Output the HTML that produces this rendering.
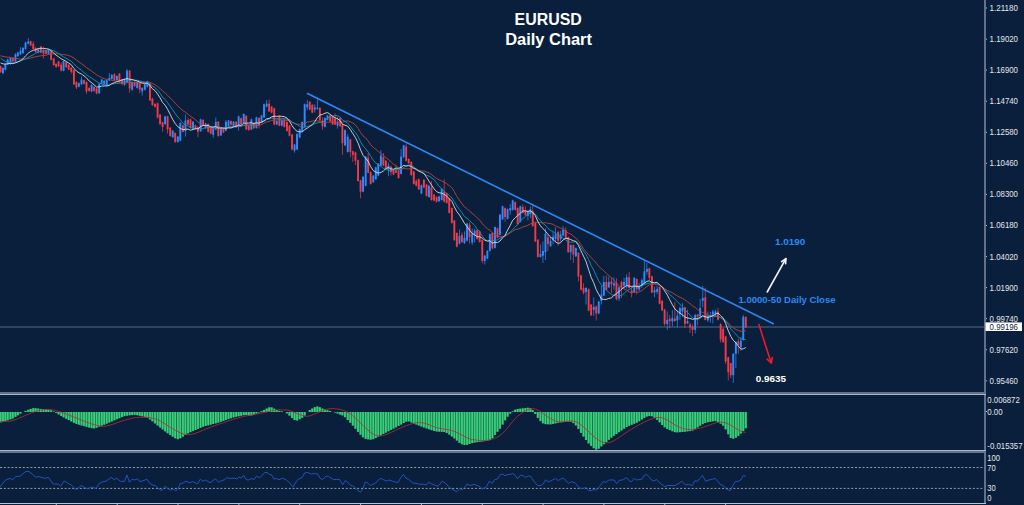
<!DOCTYPE html>
<html><head><meta charset="utf-8"><title>EURUSD Daily Chart</title>
<style>html,body{margin:0;padding:0;background:#0a1f3b;}body{width:1024px;height:505px;overflow:hidden;}svg{display:block;}</style>
</head><body>
<svg width="1024" height="505" viewBox="0 0 1024 505" shape-rendering="auto">
<rect x="0" y="0" width="1024" height="505" fill="#0a1f3b"/>
<rect x="0" y="326.5" width="984" height="1" fill="#5a6983"/>
<g><rect x="0.14" y="65.54" width="0.9" height="7.34" fill="#f23a48" opacity="0.8"/><rect x="2.52" y="67.32" width="0.9" height="6.75" fill="#2e8bff" opacity="0.8"/><rect x="4.90" y="63.16" width="0.9" height="7.34" fill="#2e8bff" opacity="0.8"/><rect x="7.27" y="58.51" width="0.9" height="6.64" fill="#2e8bff" opacity="0.8"/><rect x="10.01" y="57.22" width="0.9" height="7.83" fill="#2e8bff" opacity="0.8"/><rect x="12.38" y="57.22" width="0.9" height="4.96" fill="#f23a48" opacity="0.8"/><rect x="15.00" y="53.17" width="0.9" height="9.02" fill="#2e8bff" opacity="0.8"/><rect x="17.37" y="51.87" width="0.9" height="4.96" fill="#2e8bff" opacity="0.8"/><rect x="19.99" y="47.23" width="0.9" height="7.83" fill="#2e8bff" opacity="0.8"/><rect x="22.48" y="47.12" width="0.9" height="6.75" fill="#2e8bff" opacity="0.8"/><rect x="25.09" y="41.78" width="0.9" height="7.93" fill="#2e8bff" opacity="0.8"/><rect x="27.83" y="38.08" width="0.9" height="6.28" fill="#2e8bff" opacity="0.8"/><rect x="30.20" y="40.59" width="0.9" height="5.56" fill="#f23a48" opacity="0.8"/><rect x="32.82" y="41.29" width="0.9" height="8.42" fill="#f23a48" opacity="0.8"/><rect x="35.19" y="47.12" width="0.9" height="5.56" fill="#f23a48" opacity="0.8"/><rect x="37.81" y="48.31" width="0.9" height="4.96" fill="#2e8bff" opacity="0.8"/><rect x="40.42" y="45.93" width="0.9" height="7.34" fill="#f23a48" opacity="0.8"/><rect x="43.04" y="46.63" width="0.9" height="11.88" fill="#f23a48" opacity="0.8"/><rect x="45.65" y="50.09" width="0.9" height="4.37" fill="#f23a48" opacity="0.8"/><rect x="48.03" y="49.50" width="0.9" height="4.96" fill="#2e8bff" opacity="0.8"/><rect x="50.64" y="50.69" width="0.9" height="9.72" fill="#f23a48" opacity="0.8"/><rect x="53.25" y="57.81" width="0.9" height="7.93" fill="#f23a48" opacity="0.8"/><rect x="55.63" y="63.16" width="0.9" height="4.86" fill="#f23a48" opacity="0.8"/><rect x="58.12" y="60.79" width="0.9" height="6.15" fill="#f23a48" opacity="0.8"/><rect x="60.74" y="62.38" width="0.9" height="9.02" fill="#f23a48" opacity="0.8"/><rect x="63.11" y="60.49" width="0.9" height="10.90" fill="#2e8bff" opacity="0.8"/><rect x="65.73" y="61.68" width="0.9" height="6.15" fill="#f23a48" opacity="0.8"/><rect x="68.22" y="64.05" width="0.9" height="6.15" fill="#f23a48" opacity="0.8"/><rect x="70.84" y="67.02" width="0.9" height="6.64" fill="#f23a48" opacity="0.8"/><rect x="73.45" y="69.40" width="0.9" height="15.66" fill="#f23a48" opacity="0.8"/><rect x="75.95" y="81.28" width="0.9" height="7.83" fill="#f23a48" opacity="0.8"/><rect x="78.44" y="82.47" width="0.9" height="4.96" fill="#2e8bff" opacity="0.8"/><rect x="81.05" y="76.63" width="0.9" height="8.42" fill="#2e8bff" opacity="0.8"/><rect x="83.55" y="79.50" width="0.9" height="4.96" fill="#f23a48" opacity="0.8"/><rect x="86.05" y="81.28" width="0.9" height="12.58" fill="#f23a48" opacity="0.8"/><rect x="88.66" y="87.22" width="0.9" height="4.37" fill="#f23a48" opacity="0.8"/><rect x="91.15" y="84.25" width="0.9" height="7.93" fill="#2e8bff" opacity="0.8"/><rect x="93.65" y="86.03" width="0.9" height="5.56" fill="#f23a48" opacity="0.8"/><rect x="96.14" y="87.81" width="0.9" height="6.64" fill="#f23a48" opacity="0.8"/><rect x="98.76" y="83.06" width="0.9" height="10.90" fill="#2e8bff" opacity="0.8"/><rect x="101.25" y="78.90" width="0.9" height="5.56" fill="#2e8bff" opacity="0.8"/><rect x="103.75" y="80.09" width="0.9" height="4.37" fill="#2e8bff" opacity="0.8"/><rect x="106.24" y="79.50" width="0.9" height="6.15" fill="#2e8bff" opacity="0.8"/><rect x="108.86" y="73.07" width="0.9" height="7.83" fill="#2e8bff" opacity="0.8"/><rect x="111.35" y="74.15" width="0.9" height="5.56" fill="#2e8bff" opacity="0.8"/><rect x="113.97" y="73.07" width="0.9" height="7.83" fill="#f23a48" opacity="0.8"/><rect x="116.46" y="75.34" width="0.9" height="5.56" fill="#2e8bff" opacity="0.8"/><rect x="118.96" y="72.96" width="0.9" height="9.72" fill="#f23a48" opacity="0.8"/><rect x="121.57" y="78.90" width="0.9" height="6.64" fill="#f23a48" opacity="0.8"/><rect x="124.06" y="78.31" width="0.9" height="7.34" fill="#2e8bff" opacity="0.8"/><rect x="126.56" y="68.91" width="0.9" height="14.36" fill="#2e8bff" opacity="0.8"/><rect x="129.17" y="69.99" width="0.9" height="22.68" fill="#f23a48" opacity="0.8"/><rect x="131.67" y="81.28" width="0.9" height="9.61" fill="#2e8bff" opacity="0.8"/><rect x="134.16" y="81.28" width="0.9" height="5.56" fill="#f23a48" opacity="0.8"/><rect x="136.78" y="81.28" width="0.9" height="7.34" fill="#2e8bff" opacity="0.8"/><rect x="139.27" y="81.87" width="0.9" height="11.39" fill="#f23a48" opacity="0.8"/><rect x="141.77" y="87.22" width="0.9" height="8.42" fill="#2e8bff" opacity="0.8"/><rect x="144.38" y="83.66" width="0.9" height="6.75" fill="#2e8bff" opacity="0.8"/><rect x="146.88" y="80.69" width="0.9" height="6.75" fill="#2e8bff" opacity="0.8"/><rect x="149.49" y="83.06" width="0.9" height="18.03" fill="#f23a48" opacity="0.8"/><rect x="151.93" y="97.86" width="0.9" height="7.93" fill="#f23a48" opacity="0.8"/><rect x="154.54" y="103.21" width="0.9" height="4.37" fill="#f23a48" opacity="0.8"/><rect x="157.15" y="102.62" width="0.9" height="15.66" fill="#f23a48" opacity="0.8"/><rect x="159.65" y="113.90" width="0.9" height="10.90" fill="#f23a48" opacity="0.8"/><rect x="162.14" y="121.63" width="0.9" height="10.20" fill="#f23a48" opacity="0.8"/><rect x="164.64" y="115.69" width="0.9" height="9.12" fill="#2e8bff" opacity="0.8"/><rect x="167.13" y="115.69" width="0.9" height="17.93" fill="#f23a48" opacity="0.8"/><rect x="169.75" y="126.97" width="0.9" height="9.72" fill="#f23a48" opacity="0.8"/><rect x="172.24" y="129.94" width="0.9" height="7.93" fill="#2e8bff" opacity="0.8"/><rect x="174.74" y="132.32" width="0.9" height="10.80" fill="#f23a48" opacity="0.8"/><rect x="177.35" y="135.88" width="0.9" height="6.75" fill="#2e8bff" opacity="0.8"/><rect x="179.85" y="122.22" width="0.9" height="19.22" fill="#2e8bff" opacity="0.8"/><rect x="182.46" y="124.60" width="0.9" height="7.93" fill="#f23a48" opacity="0.8"/><rect x="184.96" y="114.60" width="0.9" height="21.98" fill="#2e8bff" opacity="0.8"/><rect x="187.57" y="117.57" width="0.9" height="7.83" fill="#f23a48" opacity="0.8"/><rect x="190.06" y="118.66" width="0.9" height="9.72" fill="#f23a48" opacity="0.8"/><rect x="192.56" y="121.03" width="0.9" height="8.53" fill="#2e8bff" opacity="0.8"/><rect x="195.05" y="124.60" width="0.9" height="4.96" fill="#f23a48" opacity="0.8"/><rect x="197.55" y="126.38" width="0.9" height="10.80" fill="#f23a48" opacity="0.8"/><rect x="200.16" y="118.66" width="0.9" height="13.28" fill="#2e8bff" opacity="0.8"/><rect x="202.66" y="119.25" width="0.9" height="6.75" fill="#f23a48" opacity="0.8"/><rect x="205.15" y="122.81" width="0.9" height="6.15" fill="#2e8bff" opacity="0.8"/><rect x="207.77" y="123.41" width="0.9" height="9.12" fill="#f23a48" opacity="0.8"/><rect x="210.26" y="126.38" width="0.9" height="7.93" fill="#f23a48" opacity="0.8"/><rect x="212.76" y="127.57" width="0.9" height="10.20" fill="#2e8bff" opacity="0.8"/><rect x="215.37" y="117.57" width="0.9" height="12.58" fill="#2e8bff" opacity="0.8"/><rect x="217.87" y="121.03" width="0.9" height="15.66" fill="#f23a48" opacity="0.8"/><rect x="220.48" y="128.16" width="0.9" height="7.93" fill="#2e8bff" opacity="0.8"/><rect x="222.98" y="127.57" width="0.9" height="5.56" fill="#f23a48" opacity="0.8"/><rect x="225.47" y="119.95" width="0.9" height="11.39" fill="#2e8bff" opacity="0.8"/><rect x="228.08" y="119.84" width="0.9" height="7.34" fill="#2e8bff" opacity="0.8"/><rect x="230.58" y="120.44" width="0.9" height="4.96" fill="#f23a48" opacity="0.8"/><rect x="233.07" y="121.03" width="0.9" height="6.15" fill="#2e8bff" opacity="0.8"/><rect x="235.69" y="121.03" width="0.9" height="6.75" fill="#f23a48" opacity="0.8"/><rect x="238.18" y="115.69" width="0.9" height="14.96" fill="#2e8bff" opacity="0.8"/><rect x="240.68" y="117.47" width="0.9" height="7.34" fill="#f23a48" opacity="0.8"/><rect x="243.29" y="113.31" width="0.9" height="10.31" fill="#2e8bff" opacity="0.8"/><rect x="245.79" y="115.09" width="0.9" height="15.06" fill="#f23a48" opacity="0.8"/><rect x="248.28" y="124.60" width="0.9" height="6.15" fill="#f23a48" opacity="0.8"/><rect x="250.90" y="118.66" width="0.9" height="11.50" fill="#2e8bff" opacity="0.8"/><rect x="253.39" y="122.22" width="0.9" height="6.75" fill="#f23a48" opacity="0.8"/><rect x="255.98" y="116.63" width="0.9" height="12.09" fill="#2e8bff" opacity="0.8"/><rect x="258.59" y="117.22" width="0.9" height="11.39" fill="#f23a48" opacity="0.8"/><rect x="261.08" y="114.84" width="0.9" height="8.53" fill="#2e8bff" opacity="0.8"/><rect x="263.58" y="103.56" width="0.9" height="14.47" fill="#2e8bff" opacity="0.8"/><rect x="266.19" y="100.10" width="0.9" height="7.23" fill="#2e8bff" opacity="0.8"/><rect x="268.69" y="99.50" width="0.9" height="12.58" fill="#f23a48" opacity="0.8"/><rect x="271.18" y="105.93" width="0.9" height="7.34" fill="#f23a48" opacity="0.8"/><rect x="273.80" y="107.72" width="0.9" height="17.44" fill="#f23a48" opacity="0.8"/><rect x="276.29" y="120.19" width="0.9" height="4.96" fill="#2e8bff" opacity="0.8"/><rect x="278.91" y="115.44" width="0.9" height="10.90" fill="#f23a48" opacity="0.8"/><rect x="281.40" y="119.60" width="0.9" height="6.75" fill="#2e8bff" opacity="0.8"/><rect x="283.90" y="119.00" width="0.9" height="8.53" fill="#f23a48" opacity="0.8"/><rect x="286.51" y="121.38" width="0.9" height="10.31" fill="#f23a48" opacity="0.8"/><rect x="289.01" y="124.94" width="0.9" height="11.50" fill="#f23a48" opacity="0.8"/><rect x="291.62" y="133.85" width="0.9" height="16.74" fill="#f23a48" opacity="0.8"/><rect x="294.11" y="143.95" width="0.9" height="8.78" fill="#2e8bff" opacity="0.8"/><rect x="296.61" y="133.26" width="0.9" height="16.85" fill="#2e8bff" opacity="0.8"/><rect x="299.22" y="128.51" width="0.9" height="9.72" fill="#2e8bff" opacity="0.8"/><rect x="301.72" y="121.38" width="0.9" height="10.31" fill="#2e8bff" opacity="0.8"/><rect x="304.21" y="103.56" width="0.9" height="23.97" fill="#2e8bff" opacity="0.8"/><rect x="306.83" y="100.10" width="0.9" height="10.10" fill="#2e8bff" opacity="0.8"/><rect x="309.32" y="101.18" width="0.9" height="9.12" fill="#f23a48" opacity="0.8"/><rect x="311.82" y="104.15" width="0.9" height="9.12" fill="#f23a48" opacity="0.8"/><rect x="314.31" y="104.26" width="0.9" height="8.32" fill="#2e8bff" opacity="0.8"/><rect x="316.93" y="98.91" width="0.9" height="10.81" fill="#2e8bff" opacity="0.8"/><rect x="319.42" y="107.12" width="0.9" height="13.88" fill="#f23a48" opacity="0.8"/><rect x="322.04" y="117.33" width="0.9" height="12.48" fill="#f23a48" opacity="0.8"/><rect x="324.53" y="117.22" width="0.9" height="10.31" fill="#2e8bff" opacity="0.8"/><rect x="327.03" y="114.84" width="0.9" height="5.56" fill="#2e8bff" opacity="0.8"/><rect x="329.64" y="114.84" width="0.9" height="7.34" fill="#f23a48" opacity="0.8"/><rect x="332.13" y="116.03" width="0.9" height="9.12" fill="#f23a48" opacity="0.8"/><rect x="334.63" y="113.17" width="0.9" height="11.99" fill="#f23a48" opacity="0.8"/><rect x="337.12" y="116.73" width="0.9" height="11.88" fill="#2e8bff" opacity="0.8"/><rect x="339.74" y="117.22" width="0.9" height="9.72" fill="#f23a48" opacity="0.8"/><rect x="341.93" y="124.09" width="0.9" height="30.76" fill="#f23a48" opacity="0.8"/><rect x="344.54" y="129.44" width="0.9" height="16.61" fill="#2e8bff" opacity="0.8"/><rect x="347.27" y="134.30" width="0.9" height="18.28" fill="#2e8bff" opacity="0.8"/><rect x="349.89" y="138.71" width="0.9" height="18.52" fill="#f23a48" opacity="0.8"/><rect x="352.38" y="150.59" width="0.9" height="11.39" fill="#f23a48" opacity="0.8"/><rect x="355.00" y="151.78" width="0.9" height="13.18" fill="#f23a48" opacity="0.8"/><rect x="357.61" y="159.50" width="0.9" height="22.19" fill="#f23a48" opacity="0.8"/><rect x="360.10" y="179.70" width="0.9" height="18.52" fill="#f23a48" opacity="0.8"/><rect x="362.60" y="176.13" width="0.9" height="16.25" fill="#2e8bff" opacity="0.8"/><rect x="365.21" y="155.93" width="0.9" height="30.51" fill="#2e8bff" opacity="0.8"/><rect x="367.71" y="153.07" width="0.9" height="20.30" fill="#f23a48" opacity="0.8"/><rect x="370.20" y="171.38" width="0.9" height="13.28" fill="#f23a48" opacity="0.8"/><rect x="372.82" y="174.94" width="0.9" height="7.93" fill="#2e8bff" opacity="0.8"/><rect x="375.31" y="166.63" width="0.9" height="13.28" fill="#2e8bff" opacity="0.8"/><rect x="377.81" y="163.06" width="0.9" height="13.28" fill="#2e8bff" opacity="0.8"/><rect x="380.42" y="150.10" width="0.9" height="16.15" fill="#2e8bff" opacity="0.8"/><rect x="382.92" y="153.07" width="0.9" height="13.18" fill="#f23a48" opacity="0.8"/><rect x="385.41" y="160.09" width="0.9" height="9.12" fill="#f23a48" opacity="0.8"/><rect x="388.03" y="162.57" width="0.9" height="13.66" fill="#2e8bff" opacity="0.8"/><rect x="390.52" y="165.54" width="0.9" height="10.10" fill="#f23a48" opacity="0.8"/><rect x="393.02" y="169.00" width="0.9" height="6.15" fill="#f23a48" opacity="0.8"/><rect x="395.51" y="164.95" width="0.9" height="8.32" fill="#f23a48" opacity="0.8"/><rect x="398.12" y="169.60" width="0.9" height="9.12" fill="#f23a48" opacity="0.8"/><rect x="400.62" y="148.91" width="0.9" height="25.54" fill="#2e8bff" opacity="0.8"/><rect x="403.23" y="144.65" width="0.9" height="13.28" fill="#2e8bff" opacity="0.8"/><rect x="405.73" y="143.56" width="0.9" height="17.93" fill="#f23a48" opacity="0.8"/><rect x="408.22" y="158.31" width="0.9" height="5.56" fill="#f23a48" opacity="0.8"/><rect x="410.84" y="161.28" width="0.9" height="14.47" fill="#f23a48" opacity="0.8"/><rect x="413.33" y="170.79" width="0.9" height="13.88" fill="#f23a48" opacity="0.8"/><rect x="415.83" y="179.21" width="0.9" height="7.23" fill="#f23a48" opacity="0.8"/><rect x="418.32" y="178.51" width="0.9" height="11.50" fill="#f23a48" opacity="0.8"/><rect x="420.94" y="184.45" width="0.9" height="9.72" fill="#2e8bff" opacity="0.8"/><rect x="423.43" y="179.10" width="0.9" height="9.12" fill="#f23a48" opacity="0.8"/><rect x="426.05" y="183.85" width="0.9" height="12.69" fill="#f23a48" opacity="0.8"/><rect x="428.54" y="185.04" width="0.9" height="12.69" fill="#2e8bff" opacity="0.8"/><rect x="431.04" y="180.99" width="0.9" height="19.71" fill="#f23a48" opacity="0.8"/><rect x="433.65" y="193.95" width="0.9" height="7.34" fill="#f23a48" opacity="0.8"/><rect x="436.14" y="196.33" width="0.9" height="6.15" fill="#f23a48" opacity="0.8"/><rect x="438.64" y="195.74" width="0.9" height="6.15" fill="#2e8bff" opacity="0.8"/><rect x="441.25" y="188.01" width="0.9" height="12.69" fill="#2e8bff" opacity="0.8"/><rect x="443.75" y="179.21" width="0.9" height="23.27" fill="#f23a48" opacity="0.8"/><rect x="446.24" y="192.77" width="0.9" height="10.90" fill="#f23a48" opacity="0.8"/><rect x="448.79" y="197.86" width="0.9" height="15.66" fill="#f23a48" opacity="0.8"/><rect x="451.40" y="207.37" width="0.9" height="16.25" fill="#f23a48" opacity="0.8"/><rect x="453.90" y="219.84" width="0.9" height="21.00" fill="#f23a48" opacity="0.8"/><rect x="456.39" y="232.32" width="0.9" height="15.06" fill="#f23a48" opacity="0.8"/><rect x="459.01" y="229.46" width="0.9" height="14.96" fill="#2e8bff" opacity="0.8"/><rect x="461.50" y="232.43" width="0.9" height="10.69" fill="#f23a48" opacity="0.8"/><rect x="464.00" y="231.24" width="0.9" height="12.58" fill="#2e8bff" opacity="0.8"/><rect x="466.61" y="222.81" width="0.9" height="18.63" fill="#2e8bff" opacity="0.8"/><rect x="469.10" y="222.33" width="0.9" height="21.39" fill="#f23a48" opacity="0.8"/><rect x="471.72" y="228.27" width="0.9" height="16.63" fill="#2e8bff" opacity="0.8"/><rect x="474.21" y="228.86" width="0.9" height="13.66" fill="#2e8bff" opacity="0.8"/><rect x="476.71" y="229.35" width="0.9" height="10.31" fill="#f23a48" opacity="0.8"/><rect x="479.20" y="230.54" width="0.9" height="12.09" fill="#f23a48" opacity="0.8"/><rect x="481.82" y="239.45" width="0.9" height="23.87" fill="#f23a48" opacity="0.8"/><rect x="484.31" y="254.89" width="0.9" height="9.61" fill="#2e8bff" opacity="0.8"/><rect x="486.93" y="250.14" width="0.9" height="9.12" fill="#2e8bff" opacity="0.8"/><rect x="489.42" y="233.51" width="0.9" height="18.03" fill="#2e8bff" opacity="0.8"/><rect x="491.92" y="232.32" width="0.9" height="16.85" fill="#f23a48" opacity="0.8"/><rect x="494.53" y="226.38" width="0.9" height="22.19" fill="#2e8bff" opacity="0.8"/><rect x="497.03" y="227.57" width="0.9" height="10.90" fill="#f23a48" opacity="0.8"/><rect x="499.52" y="213.90" width="0.9" height="21.60" fill="#2e8bff" opacity="0.8"/><rect x="502.13" y="205.59" width="0.9" height="14.47" fill="#2e8bff" opacity="0.8"/><rect x="504.63" y="207.37" width="0.9" height="14.36" fill="#f23a48" opacity="0.8"/><rect x="507.12" y="208.56" width="0.9" height="10.90" fill="#2e8bff" opacity="0.8"/><rect x="509.74" y="203.91" width="0.9" height="10.69" fill="#2e8bff" opacity="0.8"/><rect x="512.23" y="199.65" width="0.9" height="10.90" fill="#2e8bff" opacity="0.8"/><rect x="514.73" y="201.43" width="0.9" height="9.12" fill="#f23a48" opacity="0.8"/><rect x="517.22" y="207.37" width="0.9" height="17.44" fill="#f23a48" opacity="0.8"/><rect x="519.84" y="205.59" width="0.9" height="16.85" fill="#2e8bff" opacity="0.8"/><rect x="522.33" y="204.50" width="0.9" height="9.02" fill="#f23a48" opacity="0.8"/><rect x="524.95" y="206.29" width="0.9" height="9.50" fill="#f23a48" opacity="0.8"/><rect x="527.44" y="210.45" width="0.9" height="10.10" fill="#2e8bff" opacity="0.8"/><rect x="529.94" y="206.29" width="0.9" height="11.88" fill="#2e8bff" opacity="0.8"/><rect x="532.27" y="204.06" width="0.9" height="22.68" fill="#f23a48" opacity="0.8"/><rect x="534.89" y="222.37" width="0.9" height="19.82" fill="#f23a48" opacity="0.8"/><rect x="537.38" y="239.00" width="0.9" height="18.63" fill="#f23a48" opacity="0.8"/><rect x="540.00" y="244.46" width="0.9" height="13.07" fill="#2e8bff" opacity="0.8"/><rect x="542.49" y="241.49" width="0.9" height="21.39" fill="#2e8bff" opacity="0.8"/><rect x="544.99" y="228.42" width="0.9" height="31.49" fill="#2e8bff" opacity="0.8"/><rect x="547.48" y="233.76" width="0.9" height="17.23" fill="#f23a48" opacity="0.8"/><rect x="550.09" y="236.73" width="0.9" height="10.10" fill="#2e8bff" opacity="0.8"/><rect x="552.59" y="231.98" width="0.9" height="12.48" fill="#2e8bff" opacity="0.8"/><rect x="555.08" y="227.23" width="0.9" height="14.85" fill="#2e8bff" opacity="0.8"/><rect x="557.70" y="230.79" width="0.9" height="14.85" fill="#f23a48" opacity="0.8"/><rect x="560.19" y="230.79" width="0.9" height="10.69" fill="#2e8bff" opacity="0.8"/><rect x="562.69" y="226.04" width="0.9" height="10.20" fill="#2e8bff" opacity="0.8"/><rect x="565.30" y="227.23" width="0.9" height="11.88" fill="#f23a48" opacity="0.8"/><rect x="567.80" y="236.63" width="0.9" height="16.25" fill="#f23a48" opacity="0.8"/><rect x="570.29" y="244.35" width="0.9" height="15.55" fill="#2e8bff" opacity="0.8"/><rect x="572.91" y="244.35" width="0.9" height="18.52" fill="#f23a48" opacity="0.8"/><rect x="575.40" y="247.32" width="0.9" height="9.72" fill="#2e8bff" opacity="0.8"/><rect x="577.97" y="252.17" width="0.9" height="29.21" fill="#f23a48" opacity="0.8"/><rect x="580.58" y="274.75" width="0.9" height="15.66" fill="#f23a48" opacity="0.8"/><rect x="583.07" y="283.17" width="0.9" height="11.29" fill="#f23a48" opacity="0.8"/><rect x="585.57" y="287.22" width="0.9" height="17.33" fill="#2e8bff" opacity="0.8"/><rect x="588.18" y="288.41" width="0.9" height="22.79" fill="#f23a48" opacity="0.8"/><rect x="590.68" y="303.85" width="0.9" height="12.09" fill="#f23a48" opacity="0.8"/><rect x="593.29" y="297.43" width="0.9" height="18.42" fill="#2e8bff" opacity="0.8"/><rect x="595.79" y="305.64" width="0.9" height="14.96" fill="#f23a48" opacity="0.8"/><rect x="598.28" y="300.88" width="0.9" height="13.28" fill="#2e8bff" opacity="0.8"/><rect x="600.90" y="285.54" width="0.9" height="19.01" fill="#2e8bff" opacity="0.8"/><rect x="603.39" y="276.04" width="0.9" height="20.30" fill="#2e8bff" opacity="0.8"/><rect x="605.89" y="275.45" width="0.9" height="14.96" fill="#f23a48" opacity="0.8"/><rect x="608.38" y="276.63" width="0.9" height="11.29" fill="#2e8bff" opacity="0.8"/><rect x="611.00" y="277.82" width="0.9" height="15.45" fill="#f23a48" opacity="0.8"/><rect x="613.49" y="277.23" width="0.9" height="12.48" fill="#2e8bff" opacity="0.8"/><rect x="615.99" y="278.42" width="0.9" height="21.98" fill="#f23a48" opacity="0.8"/><rect x="618.60" y="286.14" width="0.9" height="14.85" fill="#2e8bff" opacity="0.8"/><rect x="621.09" y="280.79" width="0.9" height="17.23" fill="#f23a48" opacity="0.8"/><rect x="623.59" y="277.82" width="0.9" height="10.69" fill="#2e8bff" opacity="0.8"/><rect x="626.20" y="274.26" width="0.9" height="14.26" fill="#2e8bff" opacity="0.8"/><rect x="628.70" y="271.88" width="0.9" height="16.63" fill="#f23a48" opacity="0.8"/><rect x="631.19" y="286.14" width="0.9" height="11.29" fill="#f23a48" opacity="0.8"/><rect x="633.81" y="277.12" width="0.9" height="15.66" fill="#2e8bff" opacity="0.8"/><rect x="636.30" y="278.31" width="0.9" height="16.15" fill="#f23a48" opacity="0.8"/><rect x="638.80" y="283.17" width="0.9" height="7.72" fill="#2e8bff" opacity="0.8"/><rect x="641.41" y="278.42" width="0.9" height="9.50" fill="#2e8bff" opacity="0.8"/><rect x="643.91" y="261.19" width="0.9" height="23.27" fill="#2e8bff" opacity="0.8"/><rect x="646.40" y="262.97" width="0.9" height="11.88" fill="#2e8bff" opacity="0.8"/><rect x="648.90" y="267.72" width="0.9" height="12.48" fill="#f23a48" opacity="0.8"/><rect x="651.45" y="275.74" width="0.9" height="17.44" fill="#f23a48" opacity="0.8"/><rect x="654.06" y="286.53" width="0.9" height="10.69" fill="#2e8bff" opacity="0.8"/><rect x="656.68" y="285.94" width="0.9" height="8.32" fill="#2e8bff" opacity="0.8"/><rect x="659.17" y="286.43" width="0.9" height="18.03" fill="#f23a48" opacity="0.8"/><rect x="661.67" y="300.09" width="0.9" height="10.90" fill="#f23a48" opacity="0.8"/><rect x="664.16" y="308.51" width="0.9" height="17.23" fill="#f23a48" opacity="0.8"/><rect x="666.78" y="311.49" width="0.9" height="18.42" fill="#2e8bff" opacity="0.8"/><rect x="669.27" y="315.05" width="0.9" height="13.07" fill="#f23a48" opacity="0.8"/><rect x="671.89" y="310.30" width="0.9" height="16.04" fill="#2e8bff" opacity="0.8"/><rect x="674.38" y="301.98" width="0.9" height="19.71" fill="#f23a48" opacity="0.8"/><rect x="676.88" y="310.30" width="0.9" height="17.23" fill="#2e8bff" opacity="0.8"/><rect x="679.49" y="306.73" width="0.9" height="13.07" fill="#2e8bff" opacity="0.8"/><rect x="681.99" y="303.17" width="0.9" height="13.66" fill="#2e8bff" opacity="0.8"/><rect x="684.48" y="306.63" width="0.9" height="21.49" fill="#f23a48" opacity="0.8"/><rect x="687.09" y="309.70" width="0.9" height="14.26" fill="#2e8bff" opacity="0.8"/><rect x="689.59" y="322.77" width="0.9" height="10.10" fill="#f23a48" opacity="0.8"/><rect x="692.08" y="324.55" width="0.9" height="11.29" fill="#f23a48" opacity="0.8"/><rect x="694.70" y="313.86" width="0.9" height="19.60" fill="#2e8bff" opacity="0.8"/><rect x="697.19" y="313.86" width="0.9" height="11.29" fill="#f23a48" opacity="0.8"/><rect x="699.69" y="299.01" width="0.9" height="17.93" fill="#2e8bff" opacity="0.8"/><rect x="702.30" y="285.94" width="0.9" height="21.39" fill="#2e8bff" opacity="0.8"/><rect x="704.80" y="287.72" width="0.9" height="32.67" fill="#f23a48" opacity="0.8"/><rect x="707.41" y="311.49" width="0.9" height="10.69" fill="#2e8bff" opacity="0.8"/><rect x="709.91" y="312.08" width="0.9" height="10.69" fill="#2e8bff" opacity="0.8"/><rect x="712.40" y="309.70" width="0.9" height="13.66" fill="#2e8bff" opacity="0.8"/><rect x="715.02" y="309.70" width="0.9" height="7.13" fill="#2e8bff" opacity="0.8"/><rect x="717.51" y="307.92" width="0.9" height="12.48" fill="#f23a48" opacity="0.8"/><rect x="720.20" y="323.36" width="0.9" height="19.12" fill="#f23a48" opacity="0.8"/><rect x="722.70" y="328.11" width="0.9" height="14.96" fill="#f23a48" opacity="0.8"/><rect x="725.19" y="335.83" width="0.9" height="28.03" fill="#f23a48" opacity="0.8"/><rect x="727.81" y="356.63" width="0.9" height="23.87" fill="#f23a48" opacity="0.8"/><rect x="730.30" y="362.57" width="0.9" height="15.55" fill="#f23a48" opacity="0.8"/><rect x="732.80" y="353.06" width="0.9" height="29.81" fill="#2e8bff" opacity="0.8"/><rect x="735.41" y="341.18" width="0.9" height="26.84" fill="#2e8bff" opacity="0.8"/><rect x="737.91" y="338.91" width="0.9" height="14.85" fill="#f23a48" opacity="0.8"/><rect x="740.40" y="337.13" width="0.9" height="13.66" fill="#2e8bff" opacity="0.8"/><rect x="742.82" y="315.05" width="0.9" height="25.65" fill="#2e8bff" opacity="0.8"/><rect x="745.31" y="316.24" width="0.9" height="11.88" fill="#f23a48" opacity="0.8"/></g>
<g><rect x="-0.36" y="66.24" width="1.9" height="5.94" fill="#f23a48"/><rect x="2.02" y="68.02" width="1.9" height="5.35" fill="#2e8bff"/><rect x="4.40" y="63.86" width="1.9" height="5.94" fill="#2e8bff"/><rect x="6.77" y="59.70" width="1.9" height="4.75" fill="#2e8bff"/><rect x="9.51" y="57.92" width="1.9" height="4.16" fill="#2e8bff"/><rect x="11.88" y="57.92" width="1.9" height="3.56" fill="#f23a48"/><rect x="14.50" y="54.36" width="1.9" height="7.13" fill="#2e8bff"/><rect x="16.87" y="52.57" width="1.9" height="3.56" fill="#2e8bff"/><rect x="19.49" y="50.79" width="1.9" height="3.56" fill="#2e8bff"/><rect x="21.98" y="47.82" width="1.9" height="5.35" fill="#2e8bff"/><rect x="24.59" y="42.48" width="1.9" height="6.53" fill="#2e8bff"/><rect x="27.33" y="41.29" width="1.9" height="2.38" fill="#2e8bff"/><rect x="29.70" y="41.29" width="1.9" height="4.16" fill="#f23a48"/><rect x="32.32" y="43.66" width="1.9" height="5.35" fill="#f23a48"/><rect x="34.69" y="47.82" width="1.9" height="4.16" fill="#f23a48"/><rect x="37.31" y="49.01" width="1.9" height="3.56" fill="#2e8bff"/><rect x="39.92" y="46.63" width="1.9" height="5.94" fill="#f23a48"/><rect x="42.54" y="50.20" width="1.9" height="3.56" fill="#f23a48"/><rect x="45.15" y="50.79" width="1.9" height="2.97" fill="#f23a48"/><rect x="47.53" y="50.20" width="1.9" height="3.56" fill="#2e8bff"/><rect x="50.14" y="51.39" width="1.9" height="8.32" fill="#f23a48"/><rect x="52.75" y="58.51" width="1.9" height="6.53" fill="#f23a48"/><rect x="55.13" y="63.86" width="1.9" height="2.97" fill="#f23a48"/><rect x="57.62" y="61.49" width="1.9" height="4.75" fill="#f23a48"/><rect x="60.24" y="64.75" width="1.9" height="5.94" fill="#f23a48"/><rect x="62.61" y="61.19" width="1.9" height="9.50" fill="#2e8bff"/><rect x="65.23" y="62.38" width="1.9" height="4.75" fill="#f23a48"/><rect x="67.72" y="64.75" width="1.9" height="4.75" fill="#f23a48"/><rect x="70.34" y="67.72" width="1.9" height="4.16" fill="#f23a48"/><rect x="72.95" y="70.10" width="1.9" height="14.26" fill="#f23a48"/><rect x="75.45" y="81.98" width="1.9" height="5.35" fill="#f23a48"/><rect x="77.94" y="83.17" width="1.9" height="3.56" fill="#2e8bff"/><rect x="80.55" y="79.60" width="1.9" height="4.75" fill="#2e8bff"/><rect x="83.05" y="80.20" width="1.9" height="3.56" fill="#f23a48"/><rect x="85.55" y="81.98" width="1.9" height="9.50" fill="#f23a48"/><rect x="88.16" y="87.92" width="1.9" height="2.97" fill="#f23a48"/><rect x="90.65" y="84.95" width="1.9" height="6.53" fill="#2e8bff"/><rect x="93.15" y="86.73" width="1.9" height="4.16" fill="#f23a48"/><rect x="95.64" y="88.51" width="1.9" height="4.75" fill="#f23a48"/><rect x="98.26" y="83.76" width="1.9" height="9.50" fill="#2e8bff"/><rect x="100.75" y="79.60" width="1.9" height="4.16" fill="#2e8bff"/><rect x="103.25" y="80.79" width="1.9" height="2.97" fill="#2e8bff"/><rect x="105.74" y="80.20" width="1.9" height="4.75" fill="#2e8bff"/><rect x="108.36" y="77.82" width="1.9" height="2.38" fill="#2e8bff"/><rect x="110.85" y="74.85" width="1.9" height="4.16" fill="#2e8bff"/><rect x="113.47" y="74.26" width="1.9" height="5.94" fill="#f23a48"/><rect x="115.96" y="76.04" width="1.9" height="4.16" fill="#2e8bff"/><rect x="118.46" y="73.66" width="1.9" height="8.32" fill="#f23a48"/><rect x="121.07" y="79.60" width="1.9" height="4.16" fill="#f23a48"/><rect x="123.56" y="79.01" width="1.9" height="5.94" fill="#2e8bff"/><rect x="126.06" y="70.69" width="1.9" height="11.88" fill="#2e8bff"/><rect x="128.67" y="70.69" width="1.9" height="17.82" fill="#f23a48"/><rect x="131.17" y="81.98" width="1.9" height="7.72" fill="#2e8bff"/><rect x="133.66" y="81.98" width="1.9" height="4.16" fill="#f23a48"/><rect x="136.28" y="81.98" width="1.9" height="5.94" fill="#2e8bff"/><rect x="138.77" y="82.57" width="1.9" height="7.13" fill="#f23a48"/><rect x="141.27" y="87.92" width="1.9" height="3.56" fill="#2e8bff"/><rect x="143.88" y="84.36" width="1.9" height="5.35" fill="#2e8bff"/><rect x="146.38" y="81.39" width="1.9" height="5.35" fill="#2e8bff"/><rect x="148.99" y="83.76" width="1.9" height="16.63" fill="#f23a48"/><rect x="151.43" y="98.56" width="1.9" height="6.53" fill="#f23a48"/><rect x="154.04" y="103.91" width="1.9" height="2.97" fill="#f23a48"/><rect x="156.65" y="103.32" width="1.9" height="14.26" fill="#f23a48"/><rect x="159.15" y="114.60" width="1.9" height="9.50" fill="#f23a48"/><rect x="161.64" y="122.33" width="1.9" height="4.75" fill="#f23a48"/><rect x="164.14" y="116.39" width="1.9" height="7.72" fill="#2e8bff"/><rect x="166.63" y="116.39" width="1.9" height="13.07" fill="#f23a48"/><rect x="169.25" y="127.67" width="1.9" height="8.32" fill="#f23a48"/><rect x="171.74" y="130.64" width="1.9" height="6.53" fill="#2e8bff"/><rect x="174.24" y="133.02" width="1.9" height="8.91" fill="#f23a48"/><rect x="176.85" y="136.58" width="1.9" height="5.35" fill="#2e8bff"/><rect x="179.35" y="122.92" width="1.9" height="17.82" fill="#2e8bff"/><rect x="181.96" y="125.30" width="1.9" height="6.53" fill="#f23a48"/><rect x="184.46" y="120.54" width="1.9" height="10.69" fill="#2e8bff"/><rect x="187.07" y="119.95" width="1.9" height="4.75" fill="#f23a48"/><rect x="189.56" y="119.36" width="1.9" height="8.32" fill="#f23a48"/><rect x="192.06" y="121.73" width="1.9" height="7.13" fill="#2e8bff"/><rect x="194.55" y="125.30" width="1.9" height="3.56" fill="#f23a48"/><rect x="197.05" y="127.08" width="1.9" height="4.75" fill="#f23a48"/><rect x="199.66" y="119.36" width="1.9" height="11.88" fill="#2e8bff"/><rect x="202.16" y="119.95" width="1.9" height="5.35" fill="#f23a48"/><rect x="204.65" y="123.51" width="1.9" height="4.75" fill="#2e8bff"/><rect x="207.27" y="124.11" width="1.9" height="7.72" fill="#f23a48"/><rect x="209.76" y="127.08" width="1.9" height="6.53" fill="#f23a48"/><rect x="212.26" y="128.27" width="1.9" height="6.53" fill="#2e8bff"/><rect x="214.87" y="121.73" width="1.9" height="7.72" fill="#2e8bff"/><rect x="217.37" y="121.73" width="1.9" height="14.26" fill="#f23a48"/><rect x="219.98" y="128.86" width="1.9" height="6.53" fill="#2e8bff"/><rect x="222.48" y="128.27" width="1.9" height="4.16" fill="#f23a48"/><rect x="224.97" y="121.73" width="1.9" height="8.91" fill="#2e8bff"/><rect x="227.58" y="120.54" width="1.9" height="5.94" fill="#2e8bff"/><rect x="230.08" y="121.14" width="1.9" height="3.56" fill="#f23a48"/><rect x="232.57" y="121.73" width="1.9" height="4.75" fill="#2e8bff"/><rect x="235.19" y="121.73" width="1.9" height="5.35" fill="#f23a48"/><rect x="237.68" y="116.39" width="1.9" height="10.10" fill="#2e8bff"/><rect x="240.18" y="118.17" width="1.9" height="5.94" fill="#f23a48"/><rect x="242.79" y="114.01" width="1.9" height="8.91" fill="#2e8bff"/><rect x="245.29" y="115.79" width="1.9" height="13.66" fill="#f23a48"/><rect x="247.78" y="125.30" width="1.9" height="4.75" fill="#f23a48"/><rect x="250.40" y="119.36" width="1.9" height="10.10" fill="#2e8bff"/><rect x="252.89" y="122.92" width="1.9" height="5.35" fill="#f23a48"/><rect x="255.48" y="117.33" width="1.9" height="10.69" fill="#2e8bff"/><rect x="258.09" y="117.92" width="1.9" height="7.72" fill="#f23a48"/><rect x="260.58" y="115.54" width="1.9" height="7.13" fill="#2e8bff"/><rect x="263.08" y="104.26" width="1.9" height="13.07" fill="#2e8bff"/><rect x="265.69" y="103.66" width="1.9" height="2.97" fill="#2e8bff"/><rect x="268.19" y="103.66" width="1.9" height="7.72" fill="#f23a48"/><rect x="270.68" y="106.63" width="1.9" height="5.94" fill="#f23a48"/><rect x="273.30" y="108.42" width="1.9" height="16.04" fill="#f23a48"/><rect x="275.79" y="120.89" width="1.9" height="3.56" fill="#2e8bff"/><rect x="278.41" y="116.14" width="1.9" height="9.50" fill="#f23a48"/><rect x="280.90" y="120.30" width="1.9" height="5.35" fill="#2e8bff"/><rect x="283.40" y="119.70" width="1.9" height="7.13" fill="#f23a48"/><rect x="286.01" y="122.08" width="1.9" height="8.91" fill="#f23a48"/><rect x="288.51" y="125.64" width="1.9" height="10.10" fill="#f23a48"/><rect x="291.12" y="134.55" width="1.9" height="14.85" fill="#f23a48"/><rect x="293.61" y="144.65" width="1.9" height="5.94" fill="#2e8bff"/><rect x="296.11" y="133.96" width="1.9" height="15.45" fill="#2e8bff"/><rect x="298.72" y="129.21" width="1.9" height="8.32" fill="#2e8bff"/><rect x="301.22" y="122.08" width="1.9" height="8.91" fill="#2e8bff"/><rect x="303.71" y="104.26" width="1.9" height="22.57" fill="#2e8bff"/><rect x="306.33" y="104.26" width="1.9" height="2.97" fill="#2e8bff"/><rect x="308.82" y="101.88" width="1.9" height="7.72" fill="#f23a48"/><rect x="311.32" y="104.85" width="1.9" height="7.72" fill="#f23a48"/><rect x="313.81" y="107.23" width="1.9" height="2.38" fill="#2e8bff"/><rect x="316.43" y="107.82" width="1.9" height="1.20" fill="#2e8bff"/><rect x="318.92" y="107.82" width="1.9" height="12.48" fill="#f23a48"/><rect x="321.54" y="120.30" width="1.9" height="5.94" fill="#f23a48"/><rect x="324.03" y="117.92" width="1.9" height="8.91" fill="#2e8bff"/><rect x="326.53" y="115.54" width="1.9" height="4.16" fill="#2e8bff"/><rect x="329.14" y="115.54" width="1.9" height="5.94" fill="#f23a48"/><rect x="331.63" y="116.73" width="1.9" height="7.72" fill="#f23a48"/><rect x="334.13" y="118.51" width="1.9" height="5.94" fill="#f23a48"/><rect x="336.62" y="122.08" width="1.9" height="3.56" fill="#2e8bff"/><rect x="339.24" y="117.92" width="1.9" height="8.32" fill="#f23a48"/><rect x="341.43" y="124.79" width="1.9" height="18.42" fill="#f23a48"/><rect x="344.04" y="130.14" width="1.9" height="15.21" fill="#2e8bff"/><rect x="346.77" y="136.67" width="1.9" height="15.21" fill="#2e8bff"/><rect x="349.39" y="139.41" width="1.9" height="12.48" fill="#f23a48"/><rect x="351.88" y="151.29" width="1.9" height="3.56" fill="#f23a48"/><rect x="354.50" y="152.48" width="1.9" height="8.32" fill="#f23a48"/><rect x="357.11" y="160.20" width="1.9" height="20.79" fill="#f23a48"/><rect x="359.60" y="180.40" width="1.9" height="11.29" fill="#f23a48"/><rect x="362.10" y="176.83" width="1.9" height="14.85" fill="#2e8bff"/><rect x="364.71" y="156.63" width="1.9" height="29.11" fill="#2e8bff"/><rect x="367.21" y="157.82" width="1.9" height="14.85" fill="#f23a48"/><rect x="369.70" y="172.08" width="1.9" height="11.88" fill="#f23a48"/><rect x="372.32" y="175.64" width="1.9" height="6.53" fill="#2e8bff"/><rect x="374.81" y="167.33" width="1.9" height="11.88" fill="#2e8bff"/><rect x="377.31" y="163.76" width="1.9" height="11.88" fill="#2e8bff"/><rect x="379.92" y="155.45" width="1.9" height="10.10" fill="#2e8bff"/><rect x="382.42" y="157.23" width="1.9" height="8.32" fill="#f23a48"/><rect x="384.91" y="160.79" width="1.9" height="7.72" fill="#f23a48"/><rect x="387.53" y="165.54" width="1.9" height="4.16" fill="#2e8bff"/><rect x="390.02" y="166.73" width="1.9" height="5.35" fill="#f23a48"/><rect x="392.52" y="169.70" width="1.9" height="4.75" fill="#f23a48"/><rect x="395.01" y="170.30" width="1.9" height="2.38" fill="#f23a48"/><rect x="397.62" y="170.30" width="1.9" height="7.72" fill="#f23a48"/><rect x="400.12" y="156.63" width="1.9" height="17.23" fill="#2e8bff"/><rect x="402.73" y="145.35" width="1.9" height="11.88" fill="#2e8bff"/><rect x="405.23" y="146.53" width="1.9" height="14.26" fill="#f23a48"/><rect x="407.72" y="159.01" width="1.9" height="4.16" fill="#f23a48"/><rect x="410.34" y="161.98" width="1.9" height="13.07" fill="#f23a48"/><rect x="412.83" y="171.49" width="1.9" height="12.48" fill="#f23a48"/><rect x="415.33" y="180.99" width="1.9" height="4.75" fill="#f23a48"/><rect x="417.82" y="179.21" width="1.9" height="10.10" fill="#f23a48"/><rect x="420.44" y="185.15" width="1.9" height="8.32" fill="#2e8bff"/><rect x="422.93" y="179.80" width="1.9" height="7.72" fill="#f23a48"/><rect x="425.55" y="184.55" width="1.9" height="11.29" fill="#f23a48"/><rect x="428.04" y="185.74" width="1.9" height="11.29" fill="#2e8bff"/><rect x="430.54" y="187.52" width="1.9" height="12.48" fill="#f23a48"/><rect x="433.15" y="194.65" width="1.9" height="5.94" fill="#f23a48"/><rect x="435.64" y="197.03" width="1.9" height="4.75" fill="#f23a48"/><rect x="438.14" y="196.44" width="1.9" height="4.75" fill="#2e8bff"/><rect x="440.75" y="188.71" width="1.9" height="11.29" fill="#2e8bff"/><rect x="443.25" y="191.68" width="1.9" height="10.10" fill="#f23a48"/><rect x="445.74" y="193.47" width="1.9" height="9.50" fill="#f23a48"/><rect x="448.29" y="198.56" width="1.9" height="14.26" fill="#f23a48"/><rect x="450.90" y="208.07" width="1.9" height="14.85" fill="#f23a48"/><rect x="453.40" y="220.54" width="1.9" height="19.60" fill="#f23a48"/><rect x="455.89" y="233.02" width="1.9" height="13.66" fill="#f23a48"/><rect x="458.51" y="235.99" width="1.9" height="7.72" fill="#2e8bff"/><rect x="461.00" y="234.80" width="1.9" height="7.13" fill="#f23a48"/><rect x="463.50" y="237.77" width="1.9" height="5.35" fill="#2e8bff"/><rect x="466.11" y="223.51" width="1.9" height="17.23" fill="#2e8bff"/><rect x="468.60" y="224.70" width="1.9" height="12.48" fill="#f23a48"/><rect x="471.22" y="233.61" width="1.9" height="8.91" fill="#2e8bff"/><rect x="473.71" y="230.64" width="1.9" height="4.16" fill="#2e8bff"/><rect x="476.21" y="230.05" width="1.9" height="8.91" fill="#f23a48"/><rect x="478.70" y="231.24" width="1.9" height="10.69" fill="#f23a48"/><rect x="481.32" y="240.15" width="1.9" height="20.79" fill="#f23a48"/><rect x="483.81" y="255.59" width="1.9" height="5.35" fill="#2e8bff"/><rect x="486.43" y="250.84" width="1.9" height="7.72" fill="#2e8bff"/><rect x="488.92" y="234.21" width="1.9" height="16.63" fill="#2e8bff"/><rect x="491.42" y="233.02" width="1.9" height="15.45" fill="#f23a48"/><rect x="494.03" y="227.08" width="1.9" height="20.79" fill="#2e8bff"/><rect x="496.53" y="228.27" width="1.9" height="9.50" fill="#f23a48"/><rect x="499.02" y="214.60" width="1.9" height="20.20" fill="#2e8bff"/><rect x="501.63" y="206.29" width="1.9" height="13.07" fill="#2e8bff"/><rect x="504.13" y="208.07" width="1.9" height="8.91" fill="#f23a48"/><rect x="506.62" y="209.26" width="1.9" height="9.50" fill="#2e8bff"/><rect x="509.24" y="208.07" width="1.9" height="2.38" fill="#2e8bff"/><rect x="511.73" y="200.35" width="1.9" height="9.50" fill="#2e8bff"/><rect x="514.23" y="202.13" width="1.9" height="7.72" fill="#f23a48"/><rect x="516.72" y="208.07" width="1.9" height="16.04" fill="#f23a48"/><rect x="519.34" y="206.29" width="1.9" height="15.45" fill="#2e8bff"/><rect x="521.83" y="206.88" width="1.9" height="5.94" fill="#f23a48"/><rect x="524.45" y="210.45" width="1.9" height="4.75" fill="#f23a48"/><rect x="526.94" y="211.63" width="1.9" height="4.16" fill="#2e8bff"/><rect x="529.44" y="209.26" width="1.9" height="4.75" fill="#2e8bff"/><rect x="531.77" y="211.19" width="1.9" height="14.85" fill="#f23a48"/><rect x="534.39" y="223.07" width="1.9" height="18.42" fill="#f23a48"/><rect x="536.88" y="239.70" width="1.9" height="17.23" fill="#f23a48"/><rect x="539.50" y="253.96" width="1.9" height="2.97" fill="#2e8bff"/><rect x="541.99" y="250.99" width="1.9" height="4.75" fill="#2e8bff"/><rect x="544.49" y="233.76" width="1.9" height="18.42" fill="#2e8bff"/><rect x="546.98" y="237.33" width="1.9" height="6.53" fill="#f23a48"/><rect x="549.59" y="240.89" width="1.9" height="5.35" fill="#2e8bff"/><rect x="552.09" y="236.73" width="1.9" height="3.56" fill="#2e8bff"/><rect x="554.58" y="234.36" width="1.9" height="4.75" fill="#2e8bff"/><rect x="557.20" y="231.98" width="1.9" height="8.91" fill="#f23a48"/><rect x="559.69" y="234.36" width="1.9" height="4.75" fill="#2e8bff"/><rect x="562.19" y="229.60" width="1.9" height="5.94" fill="#2e8bff"/><rect x="564.80" y="230.20" width="1.9" height="7.72" fill="#f23a48"/><rect x="567.30" y="237.33" width="1.9" height="14.85" fill="#f23a48"/><rect x="569.79" y="245.05" width="1.9" height="7.13" fill="#2e8bff"/><rect x="572.41" y="245.05" width="1.9" height="9.50" fill="#f23a48"/><rect x="574.90" y="248.02" width="1.9" height="8.32" fill="#2e8bff"/><rect x="577.47" y="252.87" width="1.9" height="23.76" fill="#f23a48"/><rect x="580.08" y="275.45" width="1.9" height="14.26" fill="#f23a48"/><rect x="582.57" y="287.92" width="1.9" height="4.75" fill="#f23a48"/><rect x="585.07" y="287.92" width="1.9" height="4.16" fill="#2e8bff"/><rect x="587.68" y="289.11" width="1.9" height="21.39" fill="#f23a48"/><rect x="590.18" y="304.55" width="1.9" height="10.69" fill="#f23a48"/><rect x="592.79" y="306.93" width="1.9" height="2.97" fill="#2e8bff"/><rect x="595.29" y="306.34" width="1.9" height="7.13" fill="#f23a48"/><rect x="597.78" y="301.58" width="1.9" height="11.88" fill="#2e8bff"/><rect x="600.40" y="294.46" width="1.9" height="6.53" fill="#2e8bff"/><rect x="602.89" y="281.98" width="1.9" height="13.66" fill="#2e8bff"/><rect x="605.39" y="281.98" width="1.9" height="7.72" fill="#f23a48"/><rect x="607.88" y="281.98" width="1.9" height="5.35" fill="#2e8bff"/><rect x="610.50" y="281.39" width="1.9" height="2.97" fill="#f23a48"/><rect x="612.99" y="283.17" width="1.9" height="2.38" fill="#2e8bff"/><rect x="615.49" y="282.57" width="1.9" height="16.63" fill="#f23a48"/><rect x="618.10" y="287.33" width="1.9" height="11.29" fill="#2e8bff"/><rect x="620.59" y="281.98" width="1.9" height="6.53" fill="#f23a48"/><rect x="623.09" y="281.98" width="1.9" height="3.56" fill="#2e8bff"/><rect x="625.70" y="277.23" width="1.9" height="8.32" fill="#2e8bff"/><rect x="628.20" y="277.23" width="1.9" height="10.69" fill="#f23a48"/><rect x="630.69" y="290.30" width="1.9" height="2.38" fill="#f23a48"/><rect x="633.31" y="277.82" width="1.9" height="14.26" fill="#2e8bff"/><rect x="635.80" y="279.01" width="1.9" height="10.10" fill="#f23a48"/><rect x="638.30" y="286.14" width="1.9" height="3.56" fill="#2e8bff"/><rect x="640.91" y="280.20" width="1.9" height="5.35" fill="#2e8bff"/><rect x="643.41" y="271.29" width="1.9" height="12.48" fill="#2e8bff"/><rect x="645.90" y="268.91" width="1.9" height="2.97" fill="#2e8bff"/><rect x="648.40" y="268.32" width="1.9" height="9.50" fill="#f23a48"/><rect x="650.95" y="276.44" width="1.9" height="16.04" fill="#f23a48"/><rect x="653.56" y="290.10" width="1.9" height="2.38" fill="#2e8bff"/><rect x="656.18" y="288.91" width="1.9" height="2.97" fill="#2e8bff"/><rect x="658.67" y="287.13" width="1.9" height="16.63" fill="#f23a48"/><rect x="661.17" y="300.79" width="1.9" height="9.50" fill="#f23a48"/><rect x="663.66" y="309.70" width="1.9" height="14.26" fill="#f23a48"/><rect x="666.28" y="319.80" width="1.9" height="4.16" fill="#2e8bff"/><rect x="668.77" y="318.61" width="1.9" height="2.38" fill="#f23a48"/><rect x="671.39" y="318.02" width="1.9" height="3.56" fill="#2e8bff"/><rect x="673.88" y="318.61" width="1.9" height="2.38" fill="#f23a48"/><rect x="676.38" y="315.64" width="1.9" height="4.75" fill="#2e8bff"/><rect x="678.99" y="307.92" width="1.9" height="6.53" fill="#2e8bff"/><rect x="681.49" y="307.92" width="1.9" height="3.56" fill="#2e8bff"/><rect x="683.98" y="307.33" width="1.9" height="16.63" fill="#f23a48"/><rect x="686.59" y="320.99" width="1.9" height="2.38" fill="#2e8bff"/><rect x="689.09" y="324.55" width="1.9" height="2.97" fill="#f23a48"/><rect x="691.58" y="326.34" width="1.9" height="3.56" fill="#f23a48"/><rect x="694.20" y="315.05" width="1.9" height="14.85" fill="#2e8bff"/><rect x="696.69" y="314.46" width="1.9" height="2.38" fill="#f23a48"/><rect x="699.19" y="307.92" width="1.9" height="8.32" fill="#2e8bff"/><rect x="701.80" y="297.82" width="1.9" height="2.97" fill="#2e8bff"/><rect x="704.30" y="297.23" width="1.9" height="22.57" fill="#f23a48"/><rect x="706.91" y="315.64" width="1.9" height="4.75" fill="#2e8bff"/><rect x="709.41" y="315.05" width="1.9" height="1.78" fill="#2e8bff"/><rect x="711.90" y="311.49" width="1.9" height="2.97" fill="#2e8bff"/><rect x="714.52" y="311.49" width="1.9" height="2.38" fill="#2e8bff"/><rect x="717.01" y="311.49" width="1.9" height="8.32" fill="#f23a48"/><rect x="719.70" y="324.06" width="1.9" height="15.45" fill="#f23a48"/><rect x="722.20" y="328.81" width="1.9" height="13.07" fill="#f23a48"/><rect x="724.69" y="336.53" width="1.9" height="24.95" fill="#f23a48"/><rect x="727.31" y="357.33" width="1.9" height="14.85" fill="#f23a48"/><rect x="729.80" y="363.27" width="1.9" height="11.88" fill="#f23a48"/><rect x="732.30" y="353.76" width="1.9" height="21.39" fill="#2e8bff"/><rect x="734.91" y="341.88" width="1.9" height="11.88" fill="#2e8bff"/><rect x="737.41" y="341.29" width="1.9" height="3.56" fill="#f23a48"/><rect x="739.90" y="340.69" width="1.9" height="6.53" fill="#2e8bff"/><rect x="742.32" y="316.83" width="1.9" height="23.17" fill="#2e8bff"/><rect x="744.81" y="316.83" width="1.9" height="10.69" fill="#f23a48"/></g>
<path d="M0.6,55.8 L3.0,56.4 L5.3,56.9 L7.7,57.1 L10.5,57.4 L12.8,58.0 L15.4,58.4 L17.8,58.7 L20.4,59.1 L22.9,59.2 L25.5,59.0 L28.3,58.5 L30.7,57.9 L33.3,57.3 L35.6,56.8 L38.3,56.2 L40.9,55.8 L43.5,55.5 L46.1,55.1 L48.5,54.5 L51.1,54.2 L53.7,53.8 L56.1,53.8 L58.6,53.9 L61.2,54.4 L63.6,54.6 L66.2,54.9 L68.7,55.6 L71.3,56.5 L73.9,58.1 L76.4,60.0 L78.9,61.9 L81.5,63.7 L84.0,65.6 L86.5,67.6 L89.1,69.4 L91.6,71.1 L94.1,73.0 L96.6,74.9 L99.2,76.3 L101.7,77.7 L104.2,78.7 L106.7,79.4 L109.3,79.9 L111.8,80.3 L114.4,80.8 L116.9,81.5 L119.4,82.2 L122.0,82.9 L124.5,83.2 L127.0,82.6 L129.6,82.6 L132.1,82.6 L134.6,82.9 L137.2,82.8 L139.7,82.7 L142.2,82.6 L144.8,82.5 L147.3,82.1 L149.9,82.4 L152.4,83.4 L155.0,84.7 L157.6,86.5 L160.1,88.6 L162.6,90.9 L165.1,92.9 L167.6,95.3 L170.2,98.1 L172.7,100.4 L175.2,103.2 L177.8,105.9 L180.3,108.4 L182.9,110.5 L185.4,112.3 L188.0,114.2 L190.5,116.3 L193.0,117.9 L195.5,119.8 L198.0,122.1 L200.6,123.9 L203.1,125.1 L205.6,125.9 L208.2,127.1 L210.7,127.9 L213.2,128.1 L215.8,127.8 L218.3,128.8 L220.9,128.7 L223.4,128.6 L225.9,128.2 L228.5,127.1 L231.0,126.6 L233.5,126.5 L236.1,126.3 L238.6,126.1 L241.1,126.1 L243.7,125.4 L246.2,125.8 L248.7,125.8 L251.3,125.2 L253.8,125.7 L256.4,125.3 L259.0,125.4 L261.5,124.6 L264.0,123.2 L266.6,122.0 L269.1,121.5 L271.6,120.4 L274.2,120.2 L276.7,119.7 L279.4,119.9 L281.9,119.8 L284.3,120.0 L287.0,120.4 L289.5,120.8 L292.1,122.4 L294.6,123.4 L297.1,124.3 L299.7,124.3 L302.2,123.9 L304.7,123.2 L307.3,122.1 L309.8,121.7 L312.3,121.1 L314.8,120.7 L317.4,120.8 L319.9,121.6 L322.5,122.3 L325.0,122.6 L327.5,122.2 L330.1,122.2 L332.6,122.1 L335.1,122.3 L337.6,122.1 L340.2,121.9 L342.4,122.2 L345.0,121.3 L347.7,120.9 L350.3,121.8 L352.8,123.0 L355.4,124.9 L358.1,128.5 L360.6,132.7 L363.0,135.9 L365.7,138.0 L368.2,141.1 L370.7,144.7 L373.3,147.4 L375.8,149.3 L378.3,151.5 L380.9,153.4 L383.4,155.5 L385.9,157.6 L388.5,159.5 L391.0,161.9 L393.5,164.2 L396.0,165.6 L398.6,167.9 L401.1,168.9 L403.7,168.5 L406.2,168.8 L408.7,168.9 L411.3,168.7 L413.8,168.3 L416.3,168.7 L418.8,170.3 L421.4,170.9 L423.9,171.0 L426.5,172.0 L429.0,172.9 L431.5,174.6 L434.1,176.7 L436.6,178.5 L439.1,179.8 L441.7,180.9 L444.2,182.3 L446.7,183.7 L449.2,185.6 L451.9,187.7 L454.3,191.7 L456.8,196.5 L459.5,200.1 L462.0,203.9 L464.4,206.8 L467.1,208.7 L469.6,211.2 L472.2,213.3 L474.7,215.5 L477.2,217.9 L479.7,220.1 L482.3,223.7 L484.8,226.3 L487.4,228.7 L489.9,230.3 L492.4,232.7 L495.0,234.6 L497.5,236.3 L500.0,236.8 L502.6,236.5 L505.1,236.2 L507.6,234.8 L510.2,232.9 L512.7,231.2 L515.2,229.7 L517.7,229.1 L520.3,228.2 L522.8,227.1 L525.4,226.2 L527.9,225.3 L530.4,223.9 L532.7,223.1 L535.3,222.2 L537.8,222.3 L540.4,222.4 L542.9,223.2 L545.4,222.5 L547.9,223.3 L550.5,223.5 L553.0,224.5 L555.5,225.8 L558.1,227.0 L560.6,228.2 L563.1,229.2 L565.8,231.0 L568.2,233.0 L570.7,234.0 L573.4,236.3 L575.9,238.0 L578.4,240.9 L581.0,244.6 L583.5,248.6 L586.0,251.5 L588.6,254.8 L591.1,257.6 L593.7,260.1 L596.2,263.1 L598.7,266.3 L601.3,268.7 L603.8,270.7 L606.3,273.2 L608.8,275.5 L611.4,277.6 L613.9,279.9 L616.4,283.2 L619.0,285.6 L621.5,287.3 L624.0,289.0 L626.7,290.1 L629.1,292.0 L631.6,292.8 L634.3,292.2 L636.8,292.1 L639.2,292.0 L641.9,290.5 L644.4,288.4 L646.9,286.6 L649.3,284.9 L651.9,284.5 L654.5,284.3 L657.1,284.6 L659.6,285.3 L662.1,286.6 L664.6,288.5 L667.2,290.3 L669.7,291.3 L672.3,292.8 L674.8,294.3 L677.3,295.9 L679.9,297.4 L682.4,298.3 L684.9,299.8 L687.5,301.9 L690.0,303.7 L692.5,305.8 L695.1,307.4 L697.6,309.6 L700.1,311.5 L702.8,312.4 L705.2,313.7 L707.9,314.9 L710.4,316.2 L712.9,316.5 L715.5,316.6 L718.0,316.4 L720.7,317.3 L723.1,318.3 L725.6,320.4 L728.3,322.8 L730.8,325.7 L733.2,327.9 L735.9,329.5 L738.4,330.5 L740.9,331.4 L743.3,330.9 L745.8,330.8" fill="none" stroke="#b8453f" stroke-width="0.9" stroke-linejoin="round"/>
<path d="M0.6,58.3 L3.0,60.0 L5.3,61.4 L7.7,62.3 L10.5,62.7 L12.8,63.0 L15.4,62.5 L17.8,61.7 L20.4,60.9 L22.9,60.0 L25.5,58.8 L28.3,57.3 L30.7,56.0 L33.3,54.8 L35.6,53.3 L38.3,52.0 L40.9,51.2 L43.5,50.7 L46.1,50.5 L48.5,49.6 L51.1,50.0 L53.7,50.9 L56.1,52.1 L58.6,53.4 L61.2,55.4 L63.6,56.8 L66.2,58.4 L68.7,59.8 L71.3,61.3 L73.9,63.8 L76.4,66.3 L78.9,68.4 L81.5,70.2 L84.0,72.6 L86.5,74.9 L89.1,76.7 L91.6,78.0 L94.1,79.8 L96.6,81.4 L99.2,83.0 L101.7,83.9 L104.2,84.7 L106.7,85.3 L109.3,84.8 L111.8,83.9 L114.4,83.7 L116.9,83.5 L119.4,83.3 L122.0,82.8 L124.5,81.9 L127.0,80.9 L129.6,80.7 L132.1,79.9 L134.6,80.1 L137.2,80.3 L139.7,80.9 L142.2,81.5 L144.8,81.9 L147.3,82.4 L149.9,83.8 L152.4,85.9 L155.0,87.7 L157.6,90.1 L160.1,93.3 L162.6,97.4 L165.1,99.4 L167.6,102.7 L170.2,106.3 L172.7,109.8 L175.2,113.5 L177.8,117.0 L180.3,119.7 L182.9,123.3 L185.4,124.8 L188.0,126.2 L190.5,127.7 L193.0,128.0 L195.5,128.3 L198.0,128.6 L200.6,128.9 L203.1,128.6 L205.6,127.7 L208.2,127.8 L210.7,127.2 L213.2,126.6 L215.8,126.5 L218.3,126.8 L220.9,127.4 L223.4,127.9 L225.9,127.5 L228.5,127.4 L231.0,127.1 L233.5,126.4 L236.1,127.0 L238.6,126.3 L241.1,126.4 L243.7,125.1 L246.2,124.8 L248.7,124.9 L251.3,124.7 L253.8,124.2 L256.4,123.4 L259.0,122.9 L261.5,122.4 L264.0,121.3 L266.6,119.8 L269.1,119.0 L271.6,118.0 L274.2,118.6 L276.7,118.3 L279.4,119.2 L281.9,118.5 L284.3,118.3 L287.0,119.1 L289.5,119.7 L292.1,122.0 L294.6,123.3 L297.1,124.6 L299.7,126.4 L302.2,127.7 L304.7,127.2 L307.3,126.6 L309.8,125.6 L312.3,125.0 L314.8,123.6 L317.4,122.8 L319.9,122.3 L322.5,122.0 L325.0,120.7 L327.5,118.3 L330.1,116.6 L332.6,115.9 L335.1,115.6 L337.6,115.6 L340.2,117.2 L342.4,119.9 L345.0,121.4 L347.7,123.1 L350.3,126.3 L352.8,129.7 L355.4,132.6 L358.1,136.5 L360.6,141.7 L363.0,146.1 L365.7,148.6 L368.2,152.1 L370.7,156.3 L373.3,160.2 L375.8,163.1 L378.3,164.6 L380.9,166.4 L383.4,168.4 L385.9,169.6 L388.5,170.4 L391.0,171.2 L393.5,170.7 L396.0,169.4 L398.6,169.4 L401.1,169.4 L403.7,167.5 L406.2,165.8 L408.7,165.0 L411.3,165.5 L413.8,166.9 L416.3,169.1 L418.8,170.8 L421.4,172.0 L423.9,173.6 L426.5,175.3 L429.0,176.1 L431.5,178.0 L434.1,179.6 L436.6,182.9 L439.1,186.5 L441.7,188.5 L444.2,191.3 L446.7,193.3 L449.2,195.3 L451.9,198.0 L454.3,201.6 L456.8,206.0 L459.5,209.5 L462.0,212.8 L464.4,216.5 L467.1,218.1 L469.6,220.8 L472.2,223.0 L474.7,225.5 L477.2,229.1 L479.7,231.9 L482.3,236.1 L484.8,239.1 L487.4,241.1 L489.9,240.7 L492.4,240.8 L495.0,240.2 L497.5,239.9 L500.0,238.2 L502.6,237.0 L505.1,235.6 L507.6,233.8 L510.2,232.2 L512.7,229.5 L515.2,227.2 L517.7,224.5 L520.3,221.0 L522.8,218.3 L525.4,216.9 L527.9,214.3 L530.4,213.0 L532.7,212.2 L535.3,214.1 L537.8,217.7 L540.4,220.4 L542.9,223.4 L545.4,225.2 L547.9,228.3 L550.5,230.5 L553.0,231.4 L555.5,233.4 L558.1,235.4 L560.6,236.8 L563.1,238.1 L565.8,240.1 L568.2,242.0 L570.7,242.2 L573.4,242.1 L575.9,241.7 L578.4,243.5 L581.0,247.5 L583.5,251.0 L586.0,254.3 L588.6,259.6 L591.1,265.4 L593.7,270.1 L596.2,275.7 L598.7,280.9 L601.3,284.9 L603.8,287.1 L606.3,290.2 L608.8,292.2 L611.4,294.8 L613.9,295.3 L616.4,295.9 L619.0,295.6 L621.5,295.6 L624.0,293.6 L626.7,290.8 L629.1,289.5 L631.6,288.0 L634.3,286.3 L636.8,285.9 L639.2,286.2 L641.9,285.5 L644.4,284.8 L646.9,283.7 L649.3,283.3 L651.9,282.8 L654.5,283.0 L657.1,283.0 L659.6,284.6 L662.1,287.0 L664.6,289.5 L667.2,291.5 L669.7,294.6 L672.3,296.6 L674.8,299.1 L677.3,301.6 L679.9,304.3 L682.4,307.0 L684.9,310.3 L687.5,312.4 L690.0,315.0 L692.5,318.0 L695.1,318.8 L697.6,319.3 L700.1,318.1 L702.8,316.5 L705.2,316.4 L707.9,316.3 L710.4,315.9 L712.9,315.6 L715.5,315.8 L718.0,316.7 L720.7,317.8 L723.1,319.3 L725.6,321.7 L728.3,324.7 L730.8,329.0 L733.2,331.6 L735.9,334.1 L738.4,337.4 L740.9,338.9 L743.3,339.0 L745.8,339.9" fill="none" stroke="#1794b0" stroke-width="0.9" stroke-linejoin="round"/>
<path d="M0.6,62.9 L3.0,63.9 L5.3,64.1 L7.7,63.8 L10.5,63.4 L12.8,63.5 L15.4,62.9 L17.8,62.0 L20.4,60.7 L22.9,58.9 L25.5,55.9 L28.3,53.2 L30.7,51.4 L33.3,50.3 L35.6,49.7 L38.3,48.5 L40.9,48.3 L43.5,48.4 L46.1,48.7 L48.5,49.0 L51.1,50.7 L53.7,53.0 L56.1,55.2 L58.6,56.9 L61.2,58.8 L63.6,60.0 L66.2,61.5 L68.7,63.0 L71.3,64.8 L73.9,68.3 L76.4,71.0 L78.9,72.8 L81.5,74.1 L84.0,75.9 L86.5,77.9 L89.1,80.9 L91.6,82.7 L94.1,84.8 L96.6,87.0 L99.2,86.9 L101.7,86.1 L104.2,85.9 L106.7,86.0 L109.3,85.4 L111.8,83.7 L114.4,82.6 L116.9,81.7 L119.4,80.9 L122.0,79.9 L124.5,79.4 L127.0,78.5 L129.6,79.3 L132.1,79.5 L134.6,80.3 L137.2,81.0 L139.7,82.0 L142.2,83.2 L144.8,83.4 L147.3,83.2 L149.9,85.3 L152.4,88.7 L155.0,90.6 L157.6,94.1 L160.1,97.9 L162.6,102.5 L165.1,105.1 L167.6,109.3 L170.2,114.4 L172.7,119.4 L175.2,123.5 L177.8,126.7 L180.3,128.3 L182.9,129.7 L185.4,129.3 L188.0,129.1 L190.5,130.2 L193.0,129.5 L195.5,128.7 L198.0,128.9 L200.6,126.6 L203.1,125.5 L205.6,125.5 L208.2,125.5 L210.7,126.8 L213.2,127.2 L215.8,126.6 L218.3,128.0 L220.9,128.0 L223.4,128.1 L225.9,128.3 L228.5,127.9 L231.0,128.0 L233.5,127.0 L236.1,126.3 L238.6,125.1 L241.1,125.4 L243.7,123.2 L246.2,123.2 L248.7,123.0 L251.3,122.7 L253.8,123.5 L256.4,122.8 L259.0,123.2 L261.5,122.0 L264.0,120.8 L266.6,118.8 L269.1,118.5 L271.6,116.8 L274.2,116.2 L276.7,116.4 L279.4,116.1 L281.9,116.4 L284.3,116.6 L287.0,118.1 L289.5,121.2 L292.1,125.8 L294.6,129.1 L297.1,131.3 L299.7,131.8 L302.2,131.9 L304.7,129.7 L307.3,128.1 L309.8,126.4 L312.3,124.6 L314.8,121.7 L317.4,117.6 L319.9,115.1 L322.5,114.4 L325.0,113.2 L327.5,112.6 L330.1,114.3 L332.6,116.3 L335.1,117.8 L337.6,118.8 L340.2,120.7 L342.4,124.2 L345.0,125.2 L347.7,126.2 L350.3,129.6 L352.8,133.5 L355.4,137.5 L358.1,143.1 L360.6,149.9 L363.0,155.3 L365.7,158.4 L368.2,161.3 L370.7,166.7 L373.3,170.6 L375.8,172.1 L378.3,173.0 L380.9,172.5 L383.4,171.0 L385.9,168.6 L388.5,167.5 L391.0,169.0 L393.5,169.2 L396.0,168.1 L398.6,168.3 L401.1,167.3 L403.7,165.4 L406.2,166.0 L408.7,165.7 L411.3,166.4 L413.8,168.2 L416.3,169.6 L418.8,171.1 L421.4,172.3 L423.9,173.3 L426.5,177.2 L429.0,181.2 L431.5,185.1 L434.1,188.9 L436.6,191.6 L439.1,192.8 L441.7,193.1 L444.2,194.4 L446.7,196.1 L449.2,198.7 L451.9,201.4 L454.3,206.8 L456.8,211.5 L459.5,215.0 L462.0,219.0 L464.4,223.2 L467.1,226.7 L469.6,230.2 L472.2,233.3 L474.7,235.0 L477.2,236.6 L479.7,236.8 L482.3,238.2 L484.8,240.2 L487.4,241.1 L489.9,240.7 L492.4,243.2 L495.0,242.2 L497.5,242.6 L500.0,241.0 L502.6,237.8 L505.1,235.3 L507.6,230.1 L510.2,225.4 L512.7,220.3 L515.2,217.9 L517.7,215.4 L520.3,213.4 L522.8,210.9 L525.4,210.9 L527.9,211.5 L530.4,210.7 L532.7,212.4 L535.3,215.7 L537.8,221.4 L540.4,225.8 L542.9,228.5 L545.4,231.2 L547.9,234.3 L550.5,236.9 L553.0,239.4 L555.5,241.9 L558.1,243.4 L560.6,242.7 L563.1,239.9 L565.8,238.3 L568.2,238.5 L570.7,239.6 L573.4,240.7 L575.9,241.4 L578.4,245.4 L581.0,250.9 L583.5,256.1 L586.0,261.4 L588.6,269.5 L591.1,277.2 L593.7,282.7 L596.2,289.6 L598.7,294.3 L601.3,298.9 L603.8,299.4 L606.3,299.4 L608.8,298.4 L611.4,298.0 L613.9,295.3 L616.4,293.7 L619.0,291.7 L621.5,289.2 L624.0,287.3 L626.7,285.5 L629.1,286.1 L631.6,286.4 L634.3,286.0 L636.8,286.5 L639.2,286.8 L641.9,284.9 L644.4,283.3 L646.9,281.3 L649.3,280.9 L651.9,282.4 L654.5,282.7 L657.1,282.3 L659.6,284.9 L662.1,287.0 L664.6,290.8 L667.2,294.7 L669.7,299.7 L672.3,304.6 L674.8,308.9 L677.3,311.2 L679.9,313.0 L682.4,314.9 L684.9,317.0 L687.5,318.0 L690.0,318.4 L692.5,319.4 L695.1,318.8 L697.6,318.7 L700.1,317.4 L702.8,315.6 L705.2,316.8 L707.9,317.5 L710.4,316.7 L712.9,315.7 L715.5,314.1 L718.0,313.1 L720.7,315.5 L723.1,318.0 L725.6,323.4 L728.3,330.8 L730.8,336.4 L733.2,340.2 L735.9,342.9 L738.4,346.2 L740.9,349.1 L743.3,348.8 L745.8,347.6" fill="none" stroke="#d9dde3" stroke-width="0.9" stroke-linejoin="round"/>
<line x1="307" y1="93.3" x2="773.8" y2="324" stroke="#2b8af5" stroke-width="1.6" stroke-linecap="butt"/>
<g stroke="#f4f4f4" stroke-width="1.6" fill="none" stroke-linecap="round" stroke-linejoin="round"><path d="M767.2,292.0 L785.9,258.6"/><path d="M781.6,261.6 L785.9,258.6 L785.6,263.8"/></g>
<g stroke="#ee1c25" stroke-width="1.6" fill="none" stroke-linecap="round" stroke-linejoin="round"><path d="M758.9,324.6 L771.2,363.0"/><path d="M772.4,357.5 L771.2,363.0 L767.1,359.2"/></g>
<text x="514.6" y="24.7" font-family="Liberation Sans, Arial, sans-serif" font-size="15.6" font-weight="bold" fill="#ffffff" textLength="67.3" lengthAdjust="spacingAndGlyphs">EURUSD</text>
<text x="505.2" y="44.9" font-family="Liberation Sans, Arial, sans-serif" font-size="15.6" font-weight="bold" fill="#ffffff" textLength="86.8" lengthAdjust="spacingAndGlyphs">Daily Chart</text>
<text x="790.2" y="245.2" font-family="Liberation Sans, Arial, sans-serif" font-size="9.9" font-weight="bold" fill="#2b8af5" text-anchor="middle">1.0190</text>
<text x="787" y="302.8" font-family="Liberation Sans, Arial, sans-serif" font-size="9.55" font-weight="bold" fill="#2b8af5" text-anchor="middle">1.0000-50 Daily Close</text>
<text x="770.9" y="381.8" font-family="Liberation Sans, Arial, sans-serif" font-size="9.9" font-weight="bold" fill="#ffffff" text-anchor="middle">0.9635</text>
<rect x="984" y="0" width="2" height="504" fill="#62718a"/>
<rect x="986" y="7.5" width="1" height="1" fill="#b4bcc9"/>
<text x="989.6" y="10.9" font-family="Liberation Sans, Arial, sans-serif" font-size="9" fill="#e4e7ec" textLength="28.4" lengthAdjust="spacingAndGlyphs">1.21180</text>
<rect x="986" y="38.6" width="1" height="1" fill="#b4bcc9"/>
<text x="989.6" y="42.0" font-family="Liberation Sans, Arial, sans-serif" font-size="9" fill="#e4e7ec" textLength="28.4" lengthAdjust="spacingAndGlyphs">1.19020</text>
<rect x="986" y="69.6" width="1" height="1" fill="#b4bcc9"/>
<text x="989.6" y="73.0" font-family="Liberation Sans, Arial, sans-serif" font-size="9" fill="#e4e7ec" textLength="28.4" lengthAdjust="spacingAndGlyphs">1.16900</text>
<rect x="986" y="100.7" width="1" height="1" fill="#b4bcc9"/>
<text x="989.6" y="104.1" font-family="Liberation Sans, Arial, sans-serif" font-size="9" fill="#e4e7ec" textLength="28.4" lengthAdjust="spacingAndGlyphs">1.14740</text>
<rect x="986" y="131.8" width="1" height="1" fill="#b4bcc9"/>
<text x="989.6" y="135.2" font-family="Liberation Sans, Arial, sans-serif" font-size="9" fill="#e4e7ec" textLength="28.4" lengthAdjust="spacingAndGlyphs">1.12580</text>
<rect x="986" y="162.8" width="1" height="1" fill="#b4bcc9"/>
<text x="989.6" y="166.2" font-family="Liberation Sans, Arial, sans-serif" font-size="9" fill="#e4e7ec" textLength="28.4" lengthAdjust="spacingAndGlyphs">1.10460</text>
<rect x="986" y="193.9" width="1" height="1" fill="#b4bcc9"/>
<text x="989.6" y="197.3" font-family="Liberation Sans, Arial, sans-serif" font-size="9" fill="#e4e7ec" textLength="28.4" lengthAdjust="spacingAndGlyphs">1.08300</text>
<rect x="986" y="225.0" width="1" height="1" fill="#b4bcc9"/>
<text x="989.6" y="228.4" font-family="Liberation Sans, Arial, sans-serif" font-size="9" fill="#e4e7ec" textLength="28.4" lengthAdjust="spacingAndGlyphs">1.06180</text>
<rect x="986" y="256.1" width="1" height="1" fill="#b4bcc9"/>
<text x="989.6" y="259.5" font-family="Liberation Sans, Arial, sans-serif" font-size="9" fill="#e4e7ec" textLength="28.4" lengthAdjust="spacingAndGlyphs">1.04020</text>
<rect x="986" y="287.1" width="1" height="1" fill="#b4bcc9"/>
<text x="989.6" y="290.5" font-family="Liberation Sans, Arial, sans-serif" font-size="9" fill="#e4e7ec" textLength="28.4" lengthAdjust="spacingAndGlyphs">1.01900</text>
<rect x="986" y="318.2" width="1" height="1" fill="#b4bcc9"/>
<text x="989.6" y="321.6" font-family="Liberation Sans, Arial, sans-serif" font-size="9" fill="#e4e7ec" textLength="28.4" lengthAdjust="spacingAndGlyphs">0.99740</text>
<rect x="986" y="349.3" width="1" height="1" fill="#b4bcc9"/>
<text x="989.6" y="352.7" font-family="Liberation Sans, Arial, sans-serif" font-size="9" fill="#e4e7ec" textLength="28.4" lengthAdjust="spacingAndGlyphs">0.97620</text>
<rect x="986" y="380.3" width="1" height="1" fill="#b4bcc9"/>
<text x="989.6" y="383.7" font-family="Liberation Sans, Arial, sans-serif" font-size="9" fill="#e4e7ec" textLength="28.4" lengthAdjust="spacingAndGlyphs">0.95460</text>
<rect x="985.5" y="322.4" width="36.5" height="8.6" fill="#ffffff"/>
<text x="989.6" y="329.8" font-family="Liberation Sans, Arial, sans-serif" font-size="9" fill="#0a1e3c" textLength="28.4" lengthAdjust="spacingAndGlyphs">0.99196</text>
<rect x="0" y="392" width="985" height="2" fill="#62718a"/><rect x="0" y="394" width="986" height="1" fill="#adb6c5"/>
<rect x="0" y="450" width="986" height="1" fill="#aab3c3"/><rect x="0" y="451" width="985" height="2" fill="#66758d"/>
<rect x="0" y="503" width="986" height="1" fill="#b9c1cf"/>
<rect x="55.8" y="503" width="1" height="2" fill="#b9c1cf"/>
<rect x="116.7" y="503" width="1" height="2" fill="#b9c1cf"/>
<rect x="177.5" y="503" width="1" height="2" fill="#b9c1cf"/>
<rect x="238.4" y="503" width="1" height="2" fill="#b9c1cf"/>
<rect x="299.2" y="503" width="1" height="2" fill="#b9c1cf"/>
<rect x="360.1" y="503" width="1" height="2" fill="#b9c1cf"/>
<rect x="420.9" y="503" width="1" height="2" fill="#b9c1cf"/>
<rect x="481.8" y="503" width="1" height="2" fill="#b9c1cf"/>
<rect x="542.6" y="503" width="1" height="2" fill="#b9c1cf"/>
<rect x="603.4" y="503" width="1" height="2" fill="#b9c1cf"/>
<rect x="664.3" y="503" width="1" height="2" fill="#b9c1cf"/>
<rect x="725.1" y="503" width="1" height="2" fill="#b9c1cf"/>
<text x="987.3" y="403.0" font-family="Liberation Sans, Arial, sans-serif" font-size="9" fill="#e4e7ec" textLength="32.5" lengthAdjust="spacingAndGlyphs">0.006872</text>
<text x="987.3" y="415.0" font-family="Liberation Sans, Arial, sans-serif" font-size="9" fill="#e4e7ec" textLength="15.3" lengthAdjust="spacingAndGlyphs">0.00</text>
<text x="987.3" y="448.6" font-family="Liberation Sans, Arial, sans-serif" font-size="9" fill="#e4e7ec" textLength="35.3" lengthAdjust="spacingAndGlyphs">-0.015357</text>
<text x="987.3" y="460.8" font-family="Liberation Sans, Arial, sans-serif" font-size="9" fill="#e4e7ec" textLength="12.8" lengthAdjust="spacingAndGlyphs">100</text>
<text x="987.3" y="470.6" font-family="Liberation Sans, Arial, sans-serif" font-size="9" fill="#e4e7ec" textLength="8.4" lengthAdjust="spacingAndGlyphs">70</text>
<text x="987.3" y="491.0" font-family="Liberation Sans, Arial, sans-serif" font-size="9" fill="#e4e7ec" textLength="8.4" lengthAdjust="spacingAndGlyphs">30</text>
<text x="987.3" y="501.0" font-family="Liberation Sans, Arial, sans-serif" font-size="9" fill="#e4e7ec" textLength="4.2" lengthAdjust="spacingAndGlyphs">0</text>
<rect x="986" y="411" width="1" height="1" fill="#b4bcc9"/>
<g><rect x="-0.71" y="412.00" width="2.6" height="10.36" fill="#1d7549"/><rect x="1.67" y="412.00" width="2.6" height="9.71" fill="#1d7549"/><rect x="4.05" y="412.00" width="2.6" height="8.96" fill="#1d7549"/><rect x="6.42" y="412.00" width="2.6" height="8.21" fill="#1d7549"/><rect x="9.16" y="412.00" width="2.6" height="7.35" fill="#1d7549"/><rect x="11.53" y="412.00" width="2.6" height="6.39" fill="#1d7549"/><rect x="14.15" y="412.00" width="2.6" height="4.84" fill="#1d7549"/><rect x="16.52" y="412.00" width="2.6" height="3.28" fill="#1d7549"/><rect x="19.14" y="412.00" width="2.6" height="1.57" fill="#1d7549"/><rect x="24.24" y="410.92" width="2.6" height="1.08" fill="#1d7549"/><rect x="26.98" y="409.84" width="2.6" height="2.16" fill="#1d7549"/><rect x="29.35" y="408.91" width="2.6" height="3.09" fill="#1d7549"/><rect x="31.97" y="408.24" width="2.6" height="3.76" fill="#1d7549"/><rect x="34.34" y="408.30" width="2.6" height="3.70" fill="#1d7549"/><rect x="36.96" y="408.61" width="2.6" height="3.39" fill="#1d7549"/><rect x="39.57" y="408.93" width="2.6" height="3.07" fill="#1d7549"/><rect x="42.19" y="409.24" width="2.6" height="2.76" fill="#1d7549"/><rect x="44.80" y="409.55" width="2.6" height="2.45" fill="#1d7549"/><rect x="47.18" y="409.84" width="2.6" height="2.16" fill="#1d7549"/><rect x="49.79" y="410.42" width="2.6" height="1.58" fill="#1d7549"/><rect x="52.40" y="411.57" width="2.6" height="0.43" fill="#1d7549"/><rect x="54.78" y="412.00" width="2.6" height="0.88" fill="#1d7549"/><rect x="57.27" y="412.00" width="2.6" height="2.37" fill="#1d7549"/><rect x="59.89" y="412.00" width="2.6" height="3.94" fill="#1d7549"/><rect x="62.26" y="412.00" width="2.6" height="5.32" fill="#1d7549"/><rect x="64.88" y="412.00" width="2.6" height="6.73" fill="#1d7549"/><rect x="67.37" y="412.00" width="2.6" height="8.04" fill="#1d7549"/><rect x="69.99" y="412.00" width="2.6" height="9.41" fill="#1d7549"/><rect x="72.60" y="412.00" width="2.6" height="10.79" fill="#1d7549"/><rect x="75.10" y="412.00" width="2.6" height="11.92" fill="#1d7549"/><rect x="77.59" y="412.00" width="2.6" height="12.71" fill="#1d7549"/><rect x="80.20" y="412.00" width="2.6" height="13.42" fill="#1d7549"/><rect x="82.70" y="412.00" width="2.6" height="14.09" fill="#1d7549"/><rect x="85.20" y="412.00" width="2.6" height="14.77" fill="#1d7549"/><rect x="87.81" y="412.00" width="2.6" height="15.47" fill="#1d7549"/><rect x="90.30" y="412.00" width="2.6" height="16.14" fill="#1d7549"/><rect x="92.80" y="412.00" width="2.6" height="16.39" fill="#1d7549"/><rect x="95.29" y="412.00" width="2.6" height="15.71" fill="#1d7549"/><rect x="97.91" y="412.00" width="2.6" height="14.66" fill="#1d7549"/><rect x="100.40" y="412.00" width="2.6" height="13.65" fill="#1d7549"/><rect x="102.90" y="412.00" width="2.6" height="12.65" fill="#1d7549"/><rect x="105.39" y="412.00" width="2.6" height="11.65" fill="#1d7549"/><rect x="108.01" y="412.00" width="2.6" height="10.57" fill="#1d7549"/><rect x="110.50" y="412.00" width="2.6" height="9.50" fill="#1d7549"/><rect x="113.12" y="412.00" width="2.6" height="8.35" fill="#1d7549"/><rect x="115.61" y="412.00" width="2.6" height="7.26" fill="#1d7549"/><rect x="118.11" y="412.00" width="2.6" height="6.17" fill="#1d7549"/><rect x="120.72" y="412.00" width="2.6" height="5.03" fill="#1d7549"/><rect x="123.21" y="412.00" width="2.6" height="4.12" fill="#1d7549"/><rect x="125.71" y="412.00" width="2.6" height="3.64" fill="#1d7549"/><rect x="128.32" y="412.00" width="2.6" height="3.30" fill="#1d7549"/><rect x="130.82" y="412.00" width="2.6" height="2.97" fill="#1d7549"/><rect x="133.31" y="412.00" width="2.6" height="2.84" fill="#1d7549"/><rect x="135.93" y="412.00" width="2.6" height="3.21" fill="#1d7549"/><rect x="138.42" y="412.00" width="2.6" height="3.73" fill="#1d7549"/><rect x="140.92" y="412.00" width="2.6" height="4.25" fill="#1d7549"/><rect x="143.53" y="412.00" width="2.6" height="4.80" fill="#1d7549"/><rect x="146.03" y="412.00" width="2.6" height="5.67" fill="#1d7549"/><rect x="148.64" y="412.00" width="2.6" height="7.42" fill="#1d7549"/><rect x="151.08" y="412.00" width="2.6" height="9.34" fill="#1d7549"/><rect x="153.69" y="412.00" width="2.6" height="11.40" fill="#1d7549"/><rect x="156.30" y="412.00" width="2.6" height="13.45" fill="#1d7549"/><rect x="158.80" y="412.00" width="2.6" height="15.42" fill="#1d7549"/><rect x="161.29" y="412.00" width="2.6" height="17.38" fill="#1d7549"/><rect x="163.79" y="412.00" width="2.6" height="19.35" fill="#1d7549"/><rect x="166.28" y="412.00" width="2.6" height="21.24" fill="#1d7549"/><rect x="168.90" y="412.00" width="2.6" height="23.03" fill="#1d7549"/><rect x="171.39" y="412.00" width="2.6" height="24.67" fill="#1d7549"/><rect x="173.89" y="412.00" width="2.6" height="26.30" fill="#1d7549"/><rect x="176.50" y="412.00" width="2.6" height="27.23" fill="#1d7549"/><rect x="179.00" y="412.00" width="2.6" height="26.29" fill="#1d7549"/><rect x="181.61" y="412.00" width="2.6" height="24.58" fill="#1d7549"/><rect x="184.11" y="412.00" width="2.6" height="22.94" fill="#1d7549"/><rect x="186.72" y="412.00" width="2.6" height="21.36" fill="#1d7549"/><rect x="189.21" y="412.00" width="2.6" height="20.16" fill="#1d7549"/><rect x="191.71" y="412.00" width="2.6" height="19.07" fill="#1d7549"/><rect x="194.20" y="412.00" width="2.6" height="17.98" fill="#1d7549"/><rect x="196.70" y="412.00" width="2.6" height="16.89" fill="#1d7549"/><rect x="199.31" y="412.00" width="2.6" height="15.74" fill="#1d7549"/><rect x="201.81" y="412.00" width="2.6" height="14.75" fill="#1d7549"/><rect x="204.30" y="412.00" width="2.6" height="13.99" fill="#1d7549"/><rect x="206.92" y="412.00" width="2.6" height="13.31" fill="#1d7549"/><rect x="209.41" y="412.00" width="2.6" height="12.65" fill="#1d7549"/><rect x="211.91" y="412.00" width="2.6" height="12.00" fill="#1d7549"/><rect x="214.52" y="412.00" width="2.6" height="11.31" fill="#1d7549"/><rect x="217.02" y="412.00" width="2.6" height="10.61" fill="#1d7549"/><rect x="219.63" y="412.00" width="2.6" height="9.75" fill="#1d7549"/><rect x="222.13" y="412.00" width="2.6" height="8.87" fill="#1d7549"/><rect x="224.62" y="412.00" width="2.6" height="8.00" fill="#1d7549"/><rect x="227.23" y="412.00" width="2.6" height="7.08" fill="#1d7549"/><rect x="229.73" y="412.00" width="2.6" height="6.21" fill="#1d7549"/><rect x="232.22" y="412.00" width="2.6" height="5.41" fill="#1d7549"/><rect x="234.84" y="412.00" width="2.6" height="4.78" fill="#1d7549"/><rect x="237.33" y="412.00" width="2.6" height="4.25" fill="#1d7549"/><rect x="239.83" y="412.00" width="2.6" height="3.73" fill="#1d7549"/><rect x="242.44" y="412.00" width="2.6" height="3.18" fill="#1d7549"/><rect x="244.94" y="412.00" width="2.6" height="2.97" fill="#1d7549"/><rect x="247.43" y="412.00" width="2.6" height="3.44" fill="#1d7549"/><rect x="250.05" y="412.00" width="2.6" height="3.38" fill="#1d7549"/><rect x="252.54" y="412.00" width="2.6" height="2.47" fill="#1d7549"/><rect x="255.13" y="412.00" width="2.6" height="1.45" fill="#1d7549"/><rect x="257.74" y="412.00" width="2.6" height="0.40" fill="#1d7549"/><rect x="260.23" y="411.25" width="2.6" height="0.75" fill="#1d7549"/><rect x="262.73" y="409.95" width="2.6" height="2.05" fill="#1d7549"/><rect x="265.34" y="408.58" width="2.6" height="3.42" fill="#1d7549"/><rect x="267.84" y="407.41" width="2.6" height="4.59" fill="#1d7549"/><rect x="270.33" y="407.45" width="2.6" height="4.55" fill="#1d7549"/><rect x="272.95" y="408.71" width="2.6" height="3.29" fill="#1d7549"/><rect x="275.44" y="409.98" width="2.6" height="2.02" fill="#1d7549"/><rect x="278.06" y="410.87" width="2.6" height="1.13" fill="#1d7549"/><rect x="280.55" y="411.33" width="2.6" height="0.67" fill="#1d7549"/><rect x="285.66" y="412.00" width="2.6" height="1.34" fill="#1d7549"/><rect x="288.16" y="412.00" width="2.6" height="3.57" fill="#1d7549"/><rect x="290.77" y="412.00" width="2.6" height="5.97" fill="#1d7549"/><rect x="293.26" y="412.00" width="2.6" height="8.06" fill="#1d7549"/><rect x="295.76" y="412.00" width="2.6" height="8.47" fill="#1d7549"/><rect x="298.37" y="412.00" width="2.6" height="7.23" fill="#1d7549"/><rect x="300.87" y="412.00" width="2.6" height="5.81" fill="#1d7549"/><rect x="303.36" y="412.00" width="2.6" height="3.47" fill="#1d7549"/><rect x="308.47" y="409.98" width="2.6" height="2.02" fill="#1d7549"/><rect x="310.97" y="408.56" width="2.6" height="3.44" fill="#1d7549"/><rect x="313.46" y="407.21" width="2.6" height="4.79" fill="#1d7549"/><rect x="316.08" y="406.47" width="2.6" height="5.53" fill="#1d7549"/><rect x="318.57" y="407.26" width="2.6" height="4.74" fill="#1d7549"/><rect x="321.19" y="408.65" width="2.6" height="3.35" fill="#1d7549"/><rect x="323.68" y="409.64" width="2.6" height="2.36" fill="#1d7549"/><rect x="326.18" y="410.32" width="2.6" height="1.68" fill="#1d7549"/><rect x="328.79" y="411.01" width="2.6" height="0.99" fill="#1d7549"/><rect x="333.78" y="412.00" width="2.6" height="0.50" fill="#1d7549"/><rect x="336.27" y="412.00" width="2.6" height="1.47" fill="#1d7549"/><rect x="338.89" y="412.00" width="2.6" height="2.50" fill="#1d7549"/><rect x="341.08" y="412.00" width="2.6" height="3.40" fill="#1d7549"/><rect x="343.69" y="412.00" width="2.6" height="5.18" fill="#1d7549"/><rect x="346.42" y="412.00" width="2.6" height="7.95" fill="#1d7549"/><rect x="349.04" y="412.00" width="2.6" height="10.71" fill="#1d7549"/><rect x="351.53" y="412.00" width="2.6" height="13.55" fill="#1d7549"/><rect x="354.15" y="412.00" width="2.6" height="16.73" fill="#1d7549"/><rect x="356.76" y="412.00" width="2.6" height="19.91" fill="#1d7549"/><rect x="359.25" y="412.00" width="2.6" height="22.74" fill="#1d7549"/><rect x="361.75" y="412.00" width="2.6" height="25.26" fill="#1d7549"/><rect x="364.36" y="412.00" width="2.6" height="26.81" fill="#1d7549"/><rect x="366.86" y="412.00" width="2.6" height="27.32" fill="#1d7549"/><rect x="369.35" y="412.00" width="2.6" height="27.68" fill="#1d7549"/><rect x="371.97" y="412.00" width="2.6" height="27.18" fill="#1d7549"/><rect x="374.46" y="412.00" width="2.6" height="25.93" fill="#1d7549"/><rect x="376.96" y="412.00" width="2.6" height="24.62" fill="#1d7549"/><rect x="379.57" y="412.00" width="2.6" height="23.25" fill="#1d7549"/><rect x="382.07" y="412.00" width="2.6" height="21.94" fill="#1d7549"/><rect x="384.56" y="412.00" width="2.6" height="20.63" fill="#1d7549"/><rect x="387.18" y="412.00" width="2.6" height="19.26" fill="#1d7549"/><rect x="389.67" y="412.00" width="2.6" height="17.95" fill="#1d7549"/><rect x="392.17" y="412.00" width="2.6" height="16.64" fill="#1d7549"/><rect x="394.66" y="412.00" width="2.6" height="15.33" fill="#1d7549"/><rect x="397.27" y="412.00" width="2.6" height="13.95" fill="#1d7549"/><rect x="399.77" y="412.00" width="2.6" height="12.55" fill="#1d7549"/><rect x="402.38" y="412.00" width="2.6" height="11.00" fill="#1d7549"/><rect x="404.88" y="412.00" width="2.6" height="9.64" fill="#1d7549"/><rect x="407.37" y="412.00" width="2.6" height="9.42" fill="#1d7549"/><rect x="409.99" y="412.00" width="2.6" height="10.40" fill="#1d7549"/><rect x="412.48" y="412.00" width="2.6" height="11.45" fill="#1d7549"/><rect x="414.98" y="412.00" width="2.6" height="12.46" fill="#1d7549"/><rect x="417.47" y="412.00" width="2.6" height="13.45" fill="#1d7549"/><rect x="420.09" y="412.00" width="2.6" height="14.48" fill="#1d7549"/><rect x="422.58" y="412.00" width="2.6" height="15.45" fill="#1d7549"/><rect x="425.20" y="412.00" width="2.6" height="16.42" fill="#1d7549"/><rect x="427.69" y="412.00" width="2.6" height="17.27" fill="#1d7549"/><rect x="430.19" y="412.00" width="2.6" height="18.12" fill="#1d7549"/><rect x="432.80" y="412.00" width="2.6" height="18.98" fill="#1d7549"/><rect x="435.29" y="412.00" width="2.6" height="19.47" fill="#1d7549"/><rect x="437.79" y="412.00" width="2.6" height="19.64" fill="#1d7549"/><rect x="440.40" y="412.00" width="2.6" height="19.78" fill="#1d7549"/><rect x="442.90" y="412.00" width="2.6" height="19.97" fill="#1d7549"/><rect x="445.39" y="412.00" width="2.6" height="20.89" fill="#1d7549"/><rect x="447.94" y="412.00" width="2.6" height="22.59" fill="#1d7549"/><rect x="450.55" y="412.00" width="2.6" height="24.44" fill="#1d7549"/><rect x="453.05" y="412.00" width="2.6" height="26.40" fill="#1d7549"/><rect x="455.54" y="412.00" width="2.6" height="28.56" fill="#1d7549"/><rect x="458.16" y="412.00" width="2.6" height="30.78" fill="#1d7549"/><rect x="460.65" y="412.00" width="2.6" height="32.22" fill="#1d7549"/><rect x="463.15" y="412.00" width="2.6" height="32.89" fill="#1d7549"/><rect x="465.76" y="412.00" width="2.6" height="32.80" fill="#1d7549"/><rect x="468.25" y="412.00" width="2.6" height="32.00" fill="#1d7549"/><rect x="470.87" y="412.00" width="2.6" height="31.11" fill="#1d7549"/><rect x="473.36" y="412.00" width="2.6" height="30.51" fill="#1d7549"/><rect x="475.86" y="412.00" width="2.6" height="30.15" fill="#1d7549"/><rect x="478.35" y="412.00" width="2.6" height="29.82" fill="#1d7549"/><rect x="480.97" y="412.00" width="2.6" height="29.48" fill="#1d7549"/><rect x="483.46" y="412.00" width="2.6" height="29.10" fill="#1d7549"/><rect x="486.08" y="412.00" width="2.6" height="28.65" fill="#1d7549"/><rect x="488.57" y="412.00" width="2.6" height="28.10" fill="#1d7549"/><rect x="491.07" y="412.00" width="2.6" height="26.28" fill="#1d7549"/><rect x="493.68" y="412.00" width="2.6" height="22.96" fill="#1d7549"/><rect x="496.18" y="412.00" width="2.6" height="19.72" fill="#1d7549"/><rect x="498.67" y="412.00" width="2.6" height="16.69" fill="#1d7549"/><rect x="501.28" y="412.00" width="2.6" height="12.56" fill="#1d7549"/><rect x="503.78" y="412.00" width="2.6" height="8.27" fill="#1d7549"/><rect x="506.27" y="412.00" width="2.6" height="4.70" fill="#1d7549"/><rect x="508.89" y="412.00" width="2.6" height="1.58" fill="#1d7549"/><rect x="511.38" y="411.32" width="2.6" height="0.68" fill="#1d7549"/><rect x="513.88" y="409.72" width="2.6" height="2.28" fill="#1d7549"/><rect x="516.37" y="409.02" width="2.6" height="2.98" fill="#1d7549"/><rect x="518.99" y="408.70" width="2.6" height="3.30" fill="#1d7549"/><rect x="521.48" y="408.39" width="2.6" height="3.61" fill="#1d7549"/><rect x="524.10" y="408.07" width="2.6" height="3.93" fill="#1d7549"/><rect x="526.59" y="407.76" width="2.6" height="4.24" fill="#1d7549"/><rect x="529.09" y="408.14" width="2.6" height="3.86" fill="#1d7549"/><rect x="531.42" y="410.17" width="2.6" height="1.83" fill="#1d7549"/><rect x="534.04" y="412.00" width="2.6" height="1.93" fill="#1d7549"/><rect x="536.53" y="412.00" width="2.6" height="5.89" fill="#1d7549"/><rect x="539.15" y="412.00" width="2.6" height="9.12" fill="#1d7549"/><rect x="541.64" y="412.00" width="2.6" height="11.29" fill="#1d7549"/><rect x="544.14" y="412.00" width="2.6" height="12.13" fill="#1d7549"/><rect x="546.63" y="412.00" width="2.6" height="12.31" fill="#1d7549"/><rect x="549.24" y="412.00" width="2.6" height="12.35" fill="#1d7549"/><rect x="551.74" y="412.00" width="2.6" height="11.96" fill="#1d7549"/><rect x="554.23" y="412.00" width="2.6" height="11.35" fill="#1d7549"/><rect x="556.85" y="412.00" width="2.6" height="10.77" fill="#1d7549"/><rect x="559.34" y="412.00" width="2.6" height="10.41" fill="#1d7549"/><rect x="561.84" y="412.00" width="2.6" height="10.15" fill="#1d7549"/><rect x="564.45" y="412.00" width="2.6" height="9.87" fill="#1d7549"/><rect x="566.95" y="412.00" width="2.6" height="9.61" fill="#1d7549"/><rect x="569.44" y="412.00" width="2.6" height="9.71" fill="#1d7549"/><rect x="572.06" y="412.00" width="2.6" height="11.10" fill="#1d7549"/><rect x="574.55" y="412.00" width="2.6" height="13.39" fill="#1d7549"/><rect x="577.12" y="412.00" width="2.6" height="16.85" fill="#1d7549"/><rect x="579.73" y="412.00" width="2.6" height="20.88" fill="#1d7549"/><rect x="582.22" y="412.00" width="2.6" height="24.49" fill="#1d7549"/><rect x="584.72" y="412.00" width="2.6" height="27.99" fill="#1d7549"/><rect x="587.33" y="412.00" width="2.6" height="31.41" fill="#1d7549"/><rect x="589.83" y="412.00" width="2.6" height="33.95" fill="#1d7549"/><rect x="592.44" y="412.00" width="2.6" height="36.24" fill="#1d7549"/><rect x="594.94" y="412.00" width="2.6" height="37.64" fill="#1d7549"/><rect x="597.43" y="412.00" width="2.6" height="36.67" fill="#1d7549"/><rect x="600.05" y="412.00" width="2.6" height="34.38" fill="#1d7549"/><rect x="602.54" y="412.00" width="2.6" height="32.20" fill="#1d7549"/><rect x="605.04" y="412.00" width="2.6" height="30.02" fill="#1d7549"/><rect x="607.53" y="412.00" width="2.6" height="27.83" fill="#1d7549"/><rect x="610.15" y="412.00" width="2.6" height="25.62" fill="#1d7549"/><rect x="612.64" y="412.00" width="2.6" height="23.75" fill="#1d7549"/><rect x="615.14" y="412.00" width="2.6" height="22.01" fill="#1d7549"/><rect x="617.75" y="412.00" width="2.6" height="20.18" fill="#1d7549"/><rect x="620.24" y="412.00" width="2.6" height="18.43" fill="#1d7549"/><rect x="622.74" y="412.00" width="2.6" height="16.68" fill="#1d7549"/><rect x="625.35" y="412.00" width="2.6" height="14.98" fill="#1d7549"/><rect x="627.85" y="412.00" width="2.6" height="13.78" fill="#1d7549"/><rect x="630.34" y="412.00" width="2.6" height="12.80" fill="#1d7549"/><rect x="632.96" y="412.00" width="2.6" height="11.77" fill="#1d7549"/><rect x="635.45" y="412.00" width="2.6" height="10.68" fill="#1d7549"/><rect x="637.95" y="412.00" width="2.6" height="9.24" fill="#1d7549"/><rect x="640.56" y="412.00" width="2.6" height="7.53" fill="#1d7549"/><rect x="643.06" y="412.00" width="2.6" height="5.89" fill="#1d7549"/><rect x="645.55" y="412.00" width="2.6" height="4.50" fill="#1d7549"/><rect x="648.05" y="412.00" width="2.6" height="3.99" fill="#1d7549"/><rect x="650.60" y="412.00" width="2.6" height="4.27" fill="#1d7549"/><rect x="653.21" y="412.00" width="2.6" height="5.69" fill="#1d7549"/><rect x="655.83" y="412.00" width="2.6" height="7.86" fill="#1d7549"/><rect x="658.32" y="412.00" width="2.6" height="10.29" fill="#1d7549"/><rect x="660.82" y="412.00" width="2.6" height="12.91" fill="#1d7549"/><rect x="663.31" y="412.00" width="2.6" height="15.31" fill="#1d7549"/><rect x="665.93" y="412.00" width="2.6" height="16.95" fill="#1d7549"/><rect x="668.42" y="412.00" width="2.6" height="18.07" fill="#1d7549"/><rect x="671.04" y="412.00" width="2.6" height="19.23" fill="#1d7549"/><rect x="673.53" y="412.00" width="2.6" height="20.14" fill="#1d7549"/><rect x="676.03" y="412.00" width="2.6" height="20.36" fill="#1d7549"/><rect x="678.64" y="412.00" width="2.6" height="20.18" fill="#1d7549"/><rect x="681.14" y="412.00" width="2.6" height="19.98" fill="#1d7549"/><rect x="683.63" y="412.00" width="2.6" height="19.70" fill="#1d7549"/><rect x="686.24" y="412.00" width="2.6" height="19.36" fill="#1d7549"/><rect x="688.74" y="412.00" width="2.6" height="19.03" fill="#1d7549"/><rect x="691.23" y="412.00" width="2.6" height="18.49" fill="#1d7549"/><rect x="693.85" y="412.00" width="2.6" height="17.12" fill="#1d7549"/><rect x="696.34" y="412.00" width="2.6" height="15.37" fill="#1d7549"/><rect x="698.84" y="412.00" width="2.6" height="13.69" fill="#1d7549"/><rect x="701.45" y="412.00" width="2.6" height="12.17" fill="#1d7549"/><rect x="703.95" y="412.00" width="2.6" height="10.99" fill="#1d7549"/><rect x="706.56" y="412.00" width="2.6" height="10.24" fill="#1d7549"/><rect x="709.06" y="412.00" width="2.6" height="9.78" fill="#1d7549"/><rect x="711.55" y="412.00" width="2.6" height="9.32" fill="#1d7549"/><rect x="714.17" y="412.00" width="2.6" height="9.16" fill="#1d7549"/><rect x="716.66" y="412.00" width="2.6" height="10.05" fill="#1d7549"/><rect x="719.35" y="412.00" width="2.6" height="11.65" fill="#1d7549"/><rect x="721.85" y="412.00" width="2.6" height="13.68" fill="#1d7549"/><rect x="724.34" y="412.00" width="2.6" height="17.40" fill="#1d7549"/><rect x="726.96" y="412.00" width="2.6" height="22.25" fill="#1d7549"/><rect x="729.45" y="412.00" width="2.6" height="25.96" fill="#1d7549"/><rect x="731.95" y="412.00" width="2.6" height="26.74" fill="#1d7549"/><rect x="734.56" y="412.00" width="2.6" height="25.67" fill="#1d7549"/><rect x="737.06" y="412.00" width="2.6" height="23.85" fill="#1d7549"/><rect x="739.55" y="412.00" width="2.6" height="21.53" fill="#1d7549"/><rect x="741.97" y="412.00" width="2.6" height="18.96" fill="#1d7549"/><rect x="744.46" y="412.00" width="2.6" height="16.23" fill="#1d7549"/></g>
<g><rect x="-0.31" y="412.00" width="1.8" height="10.36" fill="#39cf7d"/><rect x="2.07" y="412.00" width="1.8" height="9.71" fill="#39cf7d"/><rect x="4.45" y="412.00" width="1.8" height="8.96" fill="#39cf7d"/><rect x="6.82" y="412.00" width="1.8" height="8.21" fill="#39cf7d"/><rect x="9.56" y="412.00" width="1.8" height="7.35" fill="#39cf7d"/><rect x="11.93" y="412.00" width="1.8" height="6.39" fill="#39cf7d"/><rect x="14.55" y="412.00" width="1.8" height="4.84" fill="#39cf7d"/><rect x="16.92" y="412.00" width="1.8" height="3.28" fill="#39cf7d"/><rect x="19.54" y="412.00" width="1.8" height="1.57" fill="#39cf7d"/><rect x="24.64" y="410.92" width="1.8" height="1.08" fill="#39cf7d"/><rect x="27.38" y="409.84" width="1.8" height="2.16" fill="#39cf7d"/><rect x="29.75" y="408.91" width="1.8" height="3.09" fill="#39cf7d"/><rect x="32.37" y="408.24" width="1.8" height="3.76" fill="#39cf7d"/><rect x="34.74" y="408.30" width="1.8" height="3.70" fill="#39cf7d"/><rect x="37.36" y="408.61" width="1.8" height="3.39" fill="#39cf7d"/><rect x="39.97" y="408.93" width="1.8" height="3.07" fill="#39cf7d"/><rect x="42.59" y="409.24" width="1.8" height="2.76" fill="#39cf7d"/><rect x="45.20" y="409.55" width="1.8" height="2.45" fill="#39cf7d"/><rect x="47.58" y="409.84" width="1.8" height="2.16" fill="#39cf7d"/><rect x="50.19" y="410.42" width="1.8" height="1.58" fill="#39cf7d"/><rect x="52.80" y="411.57" width="1.8" height="0.43" fill="#39cf7d"/><rect x="55.18" y="412.00" width="1.8" height="0.88" fill="#39cf7d"/><rect x="57.67" y="412.00" width="1.8" height="2.37" fill="#39cf7d"/><rect x="60.29" y="412.00" width="1.8" height="3.94" fill="#39cf7d"/><rect x="62.66" y="412.00" width="1.8" height="5.32" fill="#39cf7d"/><rect x="65.28" y="412.00" width="1.8" height="6.73" fill="#39cf7d"/><rect x="67.77" y="412.00" width="1.8" height="8.04" fill="#39cf7d"/><rect x="70.39" y="412.00" width="1.8" height="9.41" fill="#39cf7d"/><rect x="73.00" y="412.00" width="1.8" height="10.79" fill="#39cf7d"/><rect x="75.50" y="412.00" width="1.8" height="11.92" fill="#39cf7d"/><rect x="77.99" y="412.00" width="1.8" height="12.71" fill="#39cf7d"/><rect x="80.60" y="412.00" width="1.8" height="13.42" fill="#39cf7d"/><rect x="83.10" y="412.00" width="1.8" height="14.09" fill="#39cf7d"/><rect x="85.60" y="412.00" width="1.8" height="14.77" fill="#39cf7d"/><rect x="88.21" y="412.00" width="1.8" height="15.47" fill="#39cf7d"/><rect x="90.70" y="412.00" width="1.8" height="16.14" fill="#39cf7d"/><rect x="93.20" y="412.00" width="1.8" height="16.39" fill="#39cf7d"/><rect x="95.69" y="412.00" width="1.8" height="15.71" fill="#39cf7d"/><rect x="98.31" y="412.00" width="1.8" height="14.66" fill="#39cf7d"/><rect x="100.80" y="412.00" width="1.8" height="13.65" fill="#39cf7d"/><rect x="103.30" y="412.00" width="1.8" height="12.65" fill="#39cf7d"/><rect x="105.79" y="412.00" width="1.8" height="11.65" fill="#39cf7d"/><rect x="108.41" y="412.00" width="1.8" height="10.57" fill="#39cf7d"/><rect x="110.90" y="412.00" width="1.8" height="9.50" fill="#39cf7d"/><rect x="113.52" y="412.00" width="1.8" height="8.35" fill="#39cf7d"/><rect x="116.01" y="412.00" width="1.8" height="7.26" fill="#39cf7d"/><rect x="118.51" y="412.00" width="1.8" height="6.17" fill="#39cf7d"/><rect x="121.12" y="412.00" width="1.8" height="5.03" fill="#39cf7d"/><rect x="123.61" y="412.00" width="1.8" height="4.12" fill="#39cf7d"/><rect x="126.11" y="412.00" width="1.8" height="3.64" fill="#39cf7d"/><rect x="128.72" y="412.00" width="1.8" height="3.30" fill="#39cf7d"/><rect x="131.22" y="412.00" width="1.8" height="2.97" fill="#39cf7d"/><rect x="133.71" y="412.00" width="1.8" height="2.84" fill="#39cf7d"/><rect x="136.33" y="412.00" width="1.8" height="3.21" fill="#39cf7d"/><rect x="138.82" y="412.00" width="1.8" height="3.73" fill="#39cf7d"/><rect x="141.32" y="412.00" width="1.8" height="4.25" fill="#39cf7d"/><rect x="143.93" y="412.00" width="1.8" height="4.80" fill="#39cf7d"/><rect x="146.43" y="412.00" width="1.8" height="5.67" fill="#39cf7d"/><rect x="149.04" y="412.00" width="1.8" height="7.42" fill="#39cf7d"/><rect x="151.48" y="412.00" width="1.8" height="9.34" fill="#39cf7d"/><rect x="154.09" y="412.00" width="1.8" height="11.40" fill="#39cf7d"/><rect x="156.70" y="412.00" width="1.8" height="13.45" fill="#39cf7d"/><rect x="159.20" y="412.00" width="1.8" height="15.42" fill="#39cf7d"/><rect x="161.69" y="412.00" width="1.8" height="17.38" fill="#39cf7d"/><rect x="164.19" y="412.00" width="1.8" height="19.35" fill="#39cf7d"/><rect x="166.68" y="412.00" width="1.8" height="21.24" fill="#39cf7d"/><rect x="169.30" y="412.00" width="1.8" height="23.03" fill="#39cf7d"/><rect x="171.79" y="412.00" width="1.8" height="24.67" fill="#39cf7d"/><rect x="174.29" y="412.00" width="1.8" height="26.30" fill="#39cf7d"/><rect x="176.90" y="412.00" width="1.8" height="27.23" fill="#39cf7d"/><rect x="179.40" y="412.00" width="1.8" height="26.29" fill="#39cf7d"/><rect x="182.01" y="412.00" width="1.8" height="24.58" fill="#39cf7d"/><rect x="184.51" y="412.00" width="1.8" height="22.94" fill="#39cf7d"/><rect x="187.12" y="412.00" width="1.8" height="21.36" fill="#39cf7d"/><rect x="189.61" y="412.00" width="1.8" height="20.16" fill="#39cf7d"/><rect x="192.11" y="412.00" width="1.8" height="19.07" fill="#39cf7d"/><rect x="194.60" y="412.00" width="1.8" height="17.98" fill="#39cf7d"/><rect x="197.10" y="412.00" width="1.8" height="16.89" fill="#39cf7d"/><rect x="199.71" y="412.00" width="1.8" height="15.74" fill="#39cf7d"/><rect x="202.21" y="412.00" width="1.8" height="14.75" fill="#39cf7d"/><rect x="204.70" y="412.00" width="1.8" height="13.99" fill="#39cf7d"/><rect x="207.32" y="412.00" width="1.8" height="13.31" fill="#39cf7d"/><rect x="209.81" y="412.00" width="1.8" height="12.65" fill="#39cf7d"/><rect x="212.31" y="412.00" width="1.8" height="12.00" fill="#39cf7d"/><rect x="214.92" y="412.00" width="1.8" height="11.31" fill="#39cf7d"/><rect x="217.42" y="412.00" width="1.8" height="10.61" fill="#39cf7d"/><rect x="220.03" y="412.00" width="1.8" height="9.75" fill="#39cf7d"/><rect x="222.53" y="412.00" width="1.8" height="8.87" fill="#39cf7d"/><rect x="225.02" y="412.00" width="1.8" height="8.00" fill="#39cf7d"/><rect x="227.63" y="412.00" width="1.8" height="7.08" fill="#39cf7d"/><rect x="230.13" y="412.00" width="1.8" height="6.21" fill="#39cf7d"/><rect x="232.62" y="412.00" width="1.8" height="5.41" fill="#39cf7d"/><rect x="235.24" y="412.00" width="1.8" height="4.78" fill="#39cf7d"/><rect x="237.73" y="412.00" width="1.8" height="4.25" fill="#39cf7d"/><rect x="240.23" y="412.00" width="1.8" height="3.73" fill="#39cf7d"/><rect x="242.84" y="412.00" width="1.8" height="3.18" fill="#39cf7d"/><rect x="245.34" y="412.00" width="1.8" height="2.97" fill="#39cf7d"/><rect x="247.83" y="412.00" width="1.8" height="3.44" fill="#39cf7d"/><rect x="250.45" y="412.00" width="1.8" height="3.38" fill="#39cf7d"/><rect x="252.94" y="412.00" width="1.8" height="2.47" fill="#39cf7d"/><rect x="255.53" y="412.00" width="1.8" height="1.45" fill="#39cf7d"/><rect x="258.14" y="412.00" width="1.8" height="0.40" fill="#39cf7d"/><rect x="260.63" y="411.25" width="1.8" height="0.75" fill="#39cf7d"/><rect x="263.13" y="409.95" width="1.8" height="2.05" fill="#39cf7d"/><rect x="265.74" y="408.58" width="1.8" height="3.42" fill="#39cf7d"/><rect x="268.24" y="407.41" width="1.8" height="4.59" fill="#39cf7d"/><rect x="270.73" y="407.45" width="1.8" height="4.55" fill="#39cf7d"/><rect x="273.35" y="408.71" width="1.8" height="3.29" fill="#39cf7d"/><rect x="275.84" y="409.98" width="1.8" height="2.02" fill="#39cf7d"/><rect x="278.46" y="410.87" width="1.8" height="1.13" fill="#39cf7d"/><rect x="280.95" y="411.33" width="1.8" height="0.67" fill="#39cf7d"/><rect x="286.06" y="412.00" width="1.8" height="1.34" fill="#39cf7d"/><rect x="288.56" y="412.00" width="1.8" height="3.57" fill="#39cf7d"/><rect x="291.17" y="412.00" width="1.8" height="5.97" fill="#39cf7d"/><rect x="293.66" y="412.00" width="1.8" height="8.06" fill="#39cf7d"/><rect x="296.16" y="412.00" width="1.8" height="8.47" fill="#39cf7d"/><rect x="298.77" y="412.00" width="1.8" height="7.23" fill="#39cf7d"/><rect x="301.27" y="412.00" width="1.8" height="5.81" fill="#39cf7d"/><rect x="303.76" y="412.00" width="1.8" height="3.47" fill="#39cf7d"/><rect x="308.87" y="409.98" width="1.8" height="2.02" fill="#39cf7d"/><rect x="311.37" y="408.56" width="1.8" height="3.44" fill="#39cf7d"/><rect x="313.86" y="407.21" width="1.8" height="4.79" fill="#39cf7d"/><rect x="316.48" y="406.47" width="1.8" height="5.53" fill="#39cf7d"/><rect x="318.97" y="407.26" width="1.8" height="4.74" fill="#39cf7d"/><rect x="321.59" y="408.65" width="1.8" height="3.35" fill="#39cf7d"/><rect x="324.08" y="409.64" width="1.8" height="2.36" fill="#39cf7d"/><rect x="326.58" y="410.32" width="1.8" height="1.68" fill="#39cf7d"/><rect x="329.19" y="411.01" width="1.8" height="0.99" fill="#39cf7d"/><rect x="334.18" y="412.00" width="1.8" height="0.50" fill="#39cf7d"/><rect x="336.67" y="412.00" width="1.8" height="1.47" fill="#39cf7d"/><rect x="339.29" y="412.00" width="1.8" height="2.50" fill="#39cf7d"/><rect x="341.48" y="412.00" width="1.8" height="3.40" fill="#39cf7d"/><rect x="344.09" y="412.00" width="1.8" height="5.18" fill="#39cf7d"/><rect x="346.82" y="412.00" width="1.8" height="7.95" fill="#39cf7d"/><rect x="349.44" y="412.00" width="1.8" height="10.71" fill="#39cf7d"/><rect x="351.93" y="412.00" width="1.8" height="13.55" fill="#39cf7d"/><rect x="354.55" y="412.00" width="1.8" height="16.73" fill="#39cf7d"/><rect x="357.16" y="412.00" width="1.8" height="19.91" fill="#39cf7d"/><rect x="359.65" y="412.00" width="1.8" height="22.74" fill="#39cf7d"/><rect x="362.15" y="412.00" width="1.8" height="25.26" fill="#39cf7d"/><rect x="364.76" y="412.00" width="1.8" height="26.81" fill="#39cf7d"/><rect x="367.26" y="412.00" width="1.8" height="27.32" fill="#39cf7d"/><rect x="369.75" y="412.00" width="1.8" height="27.68" fill="#39cf7d"/><rect x="372.37" y="412.00" width="1.8" height="27.18" fill="#39cf7d"/><rect x="374.86" y="412.00" width="1.8" height="25.93" fill="#39cf7d"/><rect x="377.36" y="412.00" width="1.8" height="24.62" fill="#39cf7d"/><rect x="379.97" y="412.00" width="1.8" height="23.25" fill="#39cf7d"/><rect x="382.47" y="412.00" width="1.8" height="21.94" fill="#39cf7d"/><rect x="384.96" y="412.00" width="1.8" height="20.63" fill="#39cf7d"/><rect x="387.58" y="412.00" width="1.8" height="19.26" fill="#39cf7d"/><rect x="390.07" y="412.00" width="1.8" height="17.95" fill="#39cf7d"/><rect x="392.57" y="412.00" width="1.8" height="16.64" fill="#39cf7d"/><rect x="395.06" y="412.00" width="1.8" height="15.33" fill="#39cf7d"/><rect x="397.67" y="412.00" width="1.8" height="13.95" fill="#39cf7d"/><rect x="400.17" y="412.00" width="1.8" height="12.55" fill="#39cf7d"/><rect x="402.78" y="412.00" width="1.8" height="11.00" fill="#39cf7d"/><rect x="405.28" y="412.00" width="1.8" height="9.64" fill="#39cf7d"/><rect x="407.77" y="412.00" width="1.8" height="9.42" fill="#39cf7d"/><rect x="410.39" y="412.00" width="1.8" height="10.40" fill="#39cf7d"/><rect x="412.88" y="412.00" width="1.8" height="11.45" fill="#39cf7d"/><rect x="415.38" y="412.00" width="1.8" height="12.46" fill="#39cf7d"/><rect x="417.87" y="412.00" width="1.8" height="13.45" fill="#39cf7d"/><rect x="420.49" y="412.00" width="1.8" height="14.48" fill="#39cf7d"/><rect x="422.98" y="412.00" width="1.8" height="15.45" fill="#39cf7d"/><rect x="425.60" y="412.00" width="1.8" height="16.42" fill="#39cf7d"/><rect x="428.09" y="412.00" width="1.8" height="17.27" fill="#39cf7d"/><rect x="430.59" y="412.00" width="1.8" height="18.12" fill="#39cf7d"/><rect x="433.20" y="412.00" width="1.8" height="18.98" fill="#39cf7d"/><rect x="435.69" y="412.00" width="1.8" height="19.47" fill="#39cf7d"/><rect x="438.19" y="412.00" width="1.8" height="19.64" fill="#39cf7d"/><rect x="440.80" y="412.00" width="1.8" height="19.78" fill="#39cf7d"/><rect x="443.30" y="412.00" width="1.8" height="19.97" fill="#39cf7d"/><rect x="445.79" y="412.00" width="1.8" height="20.89" fill="#39cf7d"/><rect x="448.34" y="412.00" width="1.8" height="22.59" fill="#39cf7d"/><rect x="450.95" y="412.00" width="1.8" height="24.44" fill="#39cf7d"/><rect x="453.45" y="412.00" width="1.8" height="26.40" fill="#39cf7d"/><rect x="455.94" y="412.00" width="1.8" height="28.56" fill="#39cf7d"/><rect x="458.56" y="412.00" width="1.8" height="30.78" fill="#39cf7d"/><rect x="461.05" y="412.00" width="1.8" height="32.22" fill="#39cf7d"/><rect x="463.55" y="412.00" width="1.8" height="32.89" fill="#39cf7d"/><rect x="466.16" y="412.00" width="1.8" height="32.80" fill="#39cf7d"/><rect x="468.65" y="412.00" width="1.8" height="32.00" fill="#39cf7d"/><rect x="471.27" y="412.00" width="1.8" height="31.11" fill="#39cf7d"/><rect x="473.76" y="412.00" width="1.8" height="30.51" fill="#39cf7d"/><rect x="476.26" y="412.00" width="1.8" height="30.15" fill="#39cf7d"/><rect x="478.75" y="412.00" width="1.8" height="29.82" fill="#39cf7d"/><rect x="481.37" y="412.00" width="1.8" height="29.48" fill="#39cf7d"/><rect x="483.86" y="412.00" width="1.8" height="29.10" fill="#39cf7d"/><rect x="486.48" y="412.00" width="1.8" height="28.65" fill="#39cf7d"/><rect x="488.97" y="412.00" width="1.8" height="28.10" fill="#39cf7d"/><rect x="491.47" y="412.00" width="1.8" height="26.28" fill="#39cf7d"/><rect x="494.08" y="412.00" width="1.8" height="22.96" fill="#39cf7d"/><rect x="496.58" y="412.00" width="1.8" height="19.72" fill="#39cf7d"/><rect x="499.07" y="412.00" width="1.8" height="16.69" fill="#39cf7d"/><rect x="501.68" y="412.00" width="1.8" height="12.56" fill="#39cf7d"/><rect x="504.18" y="412.00" width="1.8" height="8.27" fill="#39cf7d"/><rect x="506.67" y="412.00" width="1.8" height="4.70" fill="#39cf7d"/><rect x="509.29" y="412.00" width="1.8" height="1.58" fill="#39cf7d"/><rect x="511.78" y="411.32" width="1.8" height="0.68" fill="#39cf7d"/><rect x="514.28" y="409.72" width="1.8" height="2.28" fill="#39cf7d"/><rect x="516.77" y="409.02" width="1.8" height="2.98" fill="#39cf7d"/><rect x="519.39" y="408.70" width="1.8" height="3.30" fill="#39cf7d"/><rect x="521.88" y="408.39" width="1.8" height="3.61" fill="#39cf7d"/><rect x="524.50" y="408.07" width="1.8" height="3.93" fill="#39cf7d"/><rect x="526.99" y="407.76" width="1.8" height="4.24" fill="#39cf7d"/><rect x="529.49" y="408.14" width="1.8" height="3.86" fill="#39cf7d"/><rect x="531.82" y="410.17" width="1.8" height="1.83" fill="#39cf7d"/><rect x="534.44" y="412.00" width="1.8" height="1.93" fill="#39cf7d"/><rect x="536.93" y="412.00" width="1.8" height="5.89" fill="#39cf7d"/><rect x="539.55" y="412.00" width="1.8" height="9.12" fill="#39cf7d"/><rect x="542.04" y="412.00" width="1.8" height="11.29" fill="#39cf7d"/><rect x="544.54" y="412.00" width="1.8" height="12.13" fill="#39cf7d"/><rect x="547.03" y="412.00" width="1.8" height="12.31" fill="#39cf7d"/><rect x="549.64" y="412.00" width="1.8" height="12.35" fill="#39cf7d"/><rect x="552.14" y="412.00" width="1.8" height="11.96" fill="#39cf7d"/><rect x="554.63" y="412.00" width="1.8" height="11.35" fill="#39cf7d"/><rect x="557.25" y="412.00" width="1.8" height="10.77" fill="#39cf7d"/><rect x="559.74" y="412.00" width="1.8" height="10.41" fill="#39cf7d"/><rect x="562.24" y="412.00" width="1.8" height="10.15" fill="#39cf7d"/><rect x="564.85" y="412.00" width="1.8" height="9.87" fill="#39cf7d"/><rect x="567.35" y="412.00" width="1.8" height="9.61" fill="#39cf7d"/><rect x="569.84" y="412.00" width="1.8" height="9.71" fill="#39cf7d"/><rect x="572.46" y="412.00" width="1.8" height="11.10" fill="#39cf7d"/><rect x="574.95" y="412.00" width="1.8" height="13.39" fill="#39cf7d"/><rect x="577.52" y="412.00" width="1.8" height="16.85" fill="#39cf7d"/><rect x="580.13" y="412.00" width="1.8" height="20.88" fill="#39cf7d"/><rect x="582.62" y="412.00" width="1.8" height="24.49" fill="#39cf7d"/><rect x="585.12" y="412.00" width="1.8" height="27.99" fill="#39cf7d"/><rect x="587.73" y="412.00" width="1.8" height="31.41" fill="#39cf7d"/><rect x="590.23" y="412.00" width="1.8" height="33.95" fill="#39cf7d"/><rect x="592.84" y="412.00" width="1.8" height="36.24" fill="#39cf7d"/><rect x="595.34" y="412.00" width="1.8" height="37.64" fill="#39cf7d"/><rect x="597.83" y="412.00" width="1.8" height="36.67" fill="#39cf7d"/><rect x="600.45" y="412.00" width="1.8" height="34.38" fill="#39cf7d"/><rect x="602.94" y="412.00" width="1.8" height="32.20" fill="#39cf7d"/><rect x="605.44" y="412.00" width="1.8" height="30.02" fill="#39cf7d"/><rect x="607.93" y="412.00" width="1.8" height="27.83" fill="#39cf7d"/><rect x="610.55" y="412.00" width="1.8" height="25.62" fill="#39cf7d"/><rect x="613.04" y="412.00" width="1.8" height="23.75" fill="#39cf7d"/><rect x="615.54" y="412.00" width="1.8" height="22.01" fill="#39cf7d"/><rect x="618.15" y="412.00" width="1.8" height="20.18" fill="#39cf7d"/><rect x="620.64" y="412.00" width="1.8" height="18.43" fill="#39cf7d"/><rect x="623.14" y="412.00" width="1.8" height="16.68" fill="#39cf7d"/><rect x="625.75" y="412.00" width="1.8" height="14.98" fill="#39cf7d"/><rect x="628.25" y="412.00" width="1.8" height="13.78" fill="#39cf7d"/><rect x="630.74" y="412.00" width="1.8" height="12.80" fill="#39cf7d"/><rect x="633.36" y="412.00" width="1.8" height="11.77" fill="#39cf7d"/><rect x="635.85" y="412.00" width="1.8" height="10.68" fill="#39cf7d"/><rect x="638.35" y="412.00" width="1.8" height="9.24" fill="#39cf7d"/><rect x="640.96" y="412.00" width="1.8" height="7.53" fill="#39cf7d"/><rect x="643.46" y="412.00" width="1.8" height="5.89" fill="#39cf7d"/><rect x="645.95" y="412.00" width="1.8" height="4.50" fill="#39cf7d"/><rect x="648.45" y="412.00" width="1.8" height="3.99" fill="#39cf7d"/><rect x="651.00" y="412.00" width="1.8" height="4.27" fill="#39cf7d"/><rect x="653.61" y="412.00" width="1.8" height="5.69" fill="#39cf7d"/><rect x="656.23" y="412.00" width="1.8" height="7.86" fill="#39cf7d"/><rect x="658.72" y="412.00" width="1.8" height="10.29" fill="#39cf7d"/><rect x="661.22" y="412.00" width="1.8" height="12.91" fill="#39cf7d"/><rect x="663.71" y="412.00" width="1.8" height="15.31" fill="#39cf7d"/><rect x="666.33" y="412.00" width="1.8" height="16.95" fill="#39cf7d"/><rect x="668.82" y="412.00" width="1.8" height="18.07" fill="#39cf7d"/><rect x="671.44" y="412.00" width="1.8" height="19.23" fill="#39cf7d"/><rect x="673.93" y="412.00" width="1.8" height="20.14" fill="#39cf7d"/><rect x="676.43" y="412.00" width="1.8" height="20.36" fill="#39cf7d"/><rect x="679.04" y="412.00" width="1.8" height="20.18" fill="#39cf7d"/><rect x="681.54" y="412.00" width="1.8" height="19.98" fill="#39cf7d"/><rect x="684.03" y="412.00" width="1.8" height="19.70" fill="#39cf7d"/><rect x="686.64" y="412.00" width="1.8" height="19.36" fill="#39cf7d"/><rect x="689.14" y="412.00" width="1.8" height="19.03" fill="#39cf7d"/><rect x="691.63" y="412.00" width="1.8" height="18.49" fill="#39cf7d"/><rect x="694.25" y="412.00" width="1.8" height="17.12" fill="#39cf7d"/><rect x="696.74" y="412.00" width="1.8" height="15.37" fill="#39cf7d"/><rect x="699.24" y="412.00" width="1.8" height="13.69" fill="#39cf7d"/><rect x="701.85" y="412.00" width="1.8" height="12.17" fill="#39cf7d"/><rect x="704.35" y="412.00" width="1.8" height="10.99" fill="#39cf7d"/><rect x="706.96" y="412.00" width="1.8" height="10.24" fill="#39cf7d"/><rect x="709.46" y="412.00" width="1.8" height="9.78" fill="#39cf7d"/><rect x="711.95" y="412.00" width="1.8" height="9.32" fill="#39cf7d"/><rect x="714.57" y="412.00" width="1.8" height="9.16" fill="#39cf7d"/><rect x="717.06" y="412.00" width="1.8" height="10.05" fill="#39cf7d"/><rect x="719.75" y="412.00" width="1.8" height="11.65" fill="#39cf7d"/><rect x="722.25" y="412.00" width="1.8" height="13.68" fill="#39cf7d"/><rect x="724.74" y="412.00" width="1.8" height="17.40" fill="#39cf7d"/><rect x="727.36" y="412.00" width="1.8" height="22.25" fill="#39cf7d"/><rect x="729.85" y="412.00" width="1.8" height="25.96" fill="#39cf7d"/><rect x="732.35" y="412.00" width="1.8" height="26.74" fill="#39cf7d"/><rect x="734.96" y="412.00" width="1.8" height="25.67" fill="#39cf7d"/><rect x="737.46" y="412.00" width="1.8" height="23.85" fill="#39cf7d"/><rect x="739.95" y="412.00" width="1.8" height="21.53" fill="#39cf7d"/><rect x="742.37" y="412.00" width="1.8" height="18.96" fill="#39cf7d"/><rect x="744.86" y="412.00" width="1.8" height="16.23" fill="#39cf7d"/></g>
<path d="M0.0,421.7 L1.5,421.6 L3.0,421.5 L4.5,421.5 L6.0,421.4 L7.5,421.3 L9.0,421.2 L10.5,421.0 L12.0,420.7 L13.5,420.3 L15.0,419.8 L16.5,419.3 L18.0,418.6 L19.5,418.0 L21.0,417.3 L22.5,416.7 L24.0,416.0 L25.5,415.4 L27.0,414.8 L28.5,414.2 L30.0,413.5 L31.5,412.9 L33.0,412.3 L34.5,411.8 L36.0,411.3 L37.5,410.8 L39.0,410.5 L40.5,410.2 L42.0,409.9 L43.5,409.8 L45.0,409.6 L46.5,409.5 L48.0,409.4 L49.5,409.4 L51.0,409.5 L52.5,409.8 L54.0,410.1 L55.5,410.5 L57.0,410.9 L58.5,411.4 L60.0,411.8 L61.5,412.3 L63.0,412.8 L64.5,413.3 L66.0,413.9 L67.5,414.5 L69.0,415.1 L70.5,415.7 L72.0,416.3 L73.5,416.9 L75.0,417.5 L76.5,418.1 L78.0,418.7 L79.5,419.3 L81.0,419.9 L82.5,420.5 L84.0,421.1 L85.5,421.7 L87.0,422.2 L88.5,422.8 L90.0,423.3 L91.5,423.8 L93.0,424.2 L94.5,424.7 L96.0,425.1 L97.5,425.6 L99.0,425.9 L100.5,426.2 L102.0,426.3 L103.5,426.3 L105.0,426.2 L106.5,425.9 L108.0,425.6 L109.5,425.2 L111.0,424.8 L112.5,424.3 L114.0,423.8 L115.5,423.3 L117.0,422.7 L118.5,422.2 L120.0,421.7 L121.5,421.2 L123.0,420.7 L124.5,420.3 L126.0,419.8 L127.5,419.4 L129.0,419.0 L130.5,418.6 L132.0,418.2 L133.5,417.9 L135.0,417.7 L136.5,417.5 L138.0,417.4 L139.5,417.3 L141.0,417.3 L142.5,417.3 L144.0,417.3 L145.5,417.3 L147.0,417.4 L148.5,417.6 L150.0,417.8 L151.5,418.0 L153.0,418.3 L154.5,418.7 L156.0,419.2 L157.5,419.7 L159.0,420.4 L160.5,421.2 L162.0,422.1 L163.5,423.0 L165.0,423.9 L166.5,424.9 L168.0,425.8 L169.5,426.7 L171.0,427.7 L172.5,428.6 L174.0,429.5 L175.5,430.4 L177.0,431.2 L178.5,432.0 L180.0,432.7 L181.5,433.4 L183.0,433.9 L184.5,434.2 L186.0,434.5 L187.5,434.6 L189.0,434.7 L190.5,434.5 L192.0,434.2 L193.5,433.9 L195.0,433.4 L196.5,432.9 L198.0,432.3 L199.5,431.7 L201.0,431.0 L202.5,430.4 L204.0,429.8 L205.5,429.2 L207.0,428.6 L208.5,428.1 L210.0,427.5 L211.5,426.9 L213.0,426.3 L214.5,425.8 L216.0,425.2 L217.5,424.6 L219.0,424.1 L220.5,423.6 L222.0,423.1 L223.5,422.6 L225.0,422.1 L226.5,421.6 L228.0,421.1 L229.5,420.6 L231.0,420.1 L232.5,419.6 L234.0,419.1 L235.5,418.7 L237.0,418.3 L238.5,417.8 L240.0,417.4 L241.5,417.0 L243.0,416.6 L244.5,416.2 L246.0,415.9 L247.5,415.7 L249.0,415.4 L250.5,415.2 L252.0,414.9 L253.5,414.7 L255.0,414.4 L256.5,414.1 L258.0,413.8 L259.5,413.5 L261.0,413.2 L262.5,412.8 L264.0,412.5 L265.5,412.2 L267.0,411.8 L268.5,411.5 L270.0,411.1 L271.5,410.7 L273.0,410.4 L274.5,410.2 L276.0,410.0 L277.5,409.9 L279.0,409.8 L280.5,409.8 L282.0,409.8 L283.5,409.8 L285.0,409.9 L286.5,410.0 L288.0,410.3 L289.5,410.7 L291.0,411.1 L292.5,411.7 L294.0,412.3 L295.5,412.9 L297.0,413.5 L298.5,414.1 L300.0,414.7 L301.5,415.2 L303.0,415.7 L304.5,416.1 L306.0,416.2 L307.5,416.2 L309.0,416.0 L310.5,415.6 L312.0,415.1 L313.5,414.4 L315.0,413.8 L316.5,413.2 L318.0,412.5 L319.5,411.9 L321.0,411.2 L322.5,410.6 L324.0,410.1 L325.5,409.6 L327.0,409.2 L328.5,408.9 L330.0,408.7 L331.5,408.6 L333.0,408.6 L334.5,408.7 L336.0,408.8 L337.5,409.0 L339.0,409.3 L340.5,409.6 L342.0,410.0 L343.5,410.5 L345.0,411.1 L346.5,411.7 L348.0,412.4 L349.5,413.3 L351.0,414.3 L352.5,415.4 L354.0,416.7 L355.5,418.1 L357.0,419.6 L358.5,421.1 L360.0,422.6 L361.5,424.1 L363.0,425.5 L364.5,427.0 L366.0,428.4 L367.5,429.7 L369.0,431.0 L370.5,432.2 L372.0,433.2 L373.5,434.1 L375.0,434.9 L376.5,435.4 L378.0,435.8 L379.5,435.9 L381.0,435.8 L382.5,435.6 L384.0,435.2 L385.5,434.7 L387.0,434.2 L388.5,433.6 L390.0,432.9 L391.5,432.2 L393.0,431.5 L394.5,430.8 L396.0,430.0 L397.5,429.3 L399.0,428.7 L400.5,428.0 L402.0,427.3 L403.5,426.7 L405.0,426.1 L406.5,425.5 L408.0,425.0 L409.5,424.5 L411.0,424.1 L412.5,423.6 L414.0,423.3 L415.5,423.0 L417.0,422.7 L418.5,422.6 L420.0,422.6 L421.5,422.7 L423.0,422.9 L424.5,423.2 L426.0,423.7 L427.5,424.2 L429.0,424.7 L430.5,425.4 L432.0,426.0 L433.5,426.6 L435.0,427.1 L436.5,427.6 L438.0,428.0 L439.5,428.3 L441.0,428.6 L442.5,428.8 L444.0,429.1 L445.5,429.3 L447.0,429.6 L448.5,429.9 L450.0,430.2 L451.5,430.5 L453.0,431.0 L454.5,431.5 L456.0,432.1 L457.5,432.8 L459.0,433.6 L460.5,434.4 L462.0,435.2 L463.5,436.0 L465.0,436.8 L466.5,437.5 L468.0,438.2 L469.5,438.7 L471.0,439.2 L472.5,439.6 L474.0,439.8 L475.5,440.0 L477.0,440.2 L478.5,440.4 L480.0,440.5 L481.5,440.5 L483.0,440.6 L484.5,440.5 L486.0,440.4 L487.5,440.2 L489.0,440.0 L490.5,439.6 L492.0,439.1 L493.5,438.6 L495.0,438.1 L496.5,437.5 L498.0,436.7 L499.5,435.7 L501.0,434.6 L502.5,433.3 L504.0,431.9 L505.5,430.2 L507.0,428.5 L508.5,426.7 L510.0,424.8 L511.5,422.9 L513.0,421.1 L514.5,419.4 L516.0,417.8 L517.5,416.4 L519.0,415.1 L520.5,414.0 L522.0,412.9 L523.5,411.9 L525.0,411.0 L526.5,410.2 L528.0,409.5 L529.5,409.0 L531.0,408.8 L532.5,408.7 L534.0,408.9 L535.5,409.2 L537.0,409.8 L538.5,410.6 L540.0,411.5 L541.5,412.4 L543.0,413.4 L544.5,414.5 L546.0,415.6 L547.5,416.7 L549.0,417.7 L550.5,418.6 L552.0,419.5 L553.5,420.2 L555.0,420.8 L556.5,421.3 L558.0,421.6 L559.5,421.7 L561.0,421.8 L562.5,421.7 L564.0,421.5 L565.5,421.4 L567.0,421.3 L568.5,421.2 L570.0,421.1 L571.5,421.1 L573.0,421.2 L574.5,421.4 L576.0,421.9 L577.5,422.5 L579.0,423.3 L580.5,424.3 L582.0,425.6 L583.5,426.8 L585.0,428.2 L586.5,429.6 L588.0,431.0 L589.5,432.5 L591.0,433.9 L592.5,435.2 L594.0,436.6 L595.5,437.8 L597.0,438.9 L598.5,439.9 L600.0,440.8 L601.5,441.7 L603.0,442.3 L604.5,442.7 L606.0,442.9 L607.5,442.8 L609.0,442.6 L610.5,442.2 L612.0,441.6 L613.5,440.8 L615.0,440.0 L616.5,439.1 L618.0,438.1 L619.5,437.1 L621.0,436.1 L622.5,435.0 L624.0,434.0 L625.5,433.0 L627.0,432.0 L628.5,431.0 L630.0,430.1 L631.5,429.2 L633.0,428.3 L634.5,427.4 L636.0,426.5 L637.5,425.6 L639.0,424.8 L640.5,424.0 L642.0,423.2 L643.5,422.5 L645.0,421.8 L646.5,421.1 L648.0,420.4 L649.5,419.8 L651.0,419.2 L652.5,418.7 L654.0,418.2 L655.5,417.7 L657.0,417.5 L658.5,417.4 L660.0,417.5 L661.5,417.7 L663.0,418.1 L664.5,418.7 L666.0,419.4 L667.5,420.2 L669.0,421.1 L670.5,422.0 L672.0,422.9 L673.5,424.0 L675.0,424.9 L676.5,425.7 L678.0,426.5 L679.5,427.2 L681.0,427.8 L682.5,428.2 L684.0,428.7 L685.5,429.0 L687.0,429.3 L688.5,429.4 L690.0,429.5 L691.5,429.5 L693.0,429.4 L694.5,429.2 L696.0,429.0 L697.5,428.7 L699.0,428.4 L700.5,428.0 L702.0,427.6 L703.5,427.1 L705.0,426.6 L706.5,426.1 L708.0,425.6 L709.5,425.0 L711.0,424.5 L712.5,423.9 L714.0,423.4 L715.5,422.9 L717.0,422.5 L718.5,422.3 L720.0,422.1 L721.5,422.1 L723.0,422.3 L724.5,422.6 L726.0,423.1 L727.5,423.6 L729.0,424.3 L730.5,425.1 L732.0,426.0 L733.5,426.9 L735.0,427.8 L736.5,428.8 L738.0,429.7 L739.5,430.5 L741.0,431.2 L742.5,431.8 L744.0,432.2 L745.5,432.4" fill="none" stroke="#b62d35" stroke-width="0.85" stroke-linejoin="round"/>
<line x1="0" y1="467.5" x2="984" y2="467.5" stroke="#929ba7" stroke-width="1" stroke-dasharray="2 1.8"/>
<line x1="0" y1="488.4" x2="984" y2="488.4" stroke="#929ba7" stroke-width="1" stroke-dasharray="2 1.8"/>
<path d="M0.0,487.0 L2.3,483.9 L5.5,480.0 L10.2,478.4 L12.8,479.7 L15.6,476.6 L20.3,476.1 L25.8,471.4 L28.9,471.4 L32.8,474.5 L35.9,477.3 L38.3,476.4 L42.2,477.7 L45.3,478.4 L48.4,477.3 L53.1,483.9 L58.6,484.2 L60.9,486.2 L63.8,481.2 L65.6,481.6 L68.8,483.9 L71.1,484.7 L75.0,489.1 L77.3,489.1 L81.2,485.5 L85.2,487.8 L87.5,488.6 L92.2,487.0 L96.1,488.6 L99.2,483.4 L102.3,481.9 L106.2,481.1 L111.2,477.3 L114.1,479.5 L116.9,478.4 L120.3,481.2 L124.2,481.6 L127.0,475.0 L129.4,482.3 L132.0,479.2 L134.4,480.0 L137.5,478.8 L139.8,481.6 L143.0,480.8 L146.9,479.2 L150.0,483.6 L153.1,485.2 L155.5,485.5 L157.8,487.8 L160.0,490.2 L162.3,490.2 L165.2,486.2 L167.8,488.6 L170.6,490.2 L172.5,489.1 L175.6,490.6 L177.5,489.7 L180.3,483.4 L183.1,483.1 L185.8,481.2 L189.7,482.8 L192.8,481.6 L197.5,483.9 L200.3,479.2 L203.0,481.2 L205.6,480.0 L210.0,482.8 L215.5,478.8 L218.6,482.3 L221.7,480.5 L224.1,480.0 L226.4,478.0 L231.9,478.4 L234.7,478.1 L236.9,479.2 L238.9,476.9 L241.2,478.1 L243.6,475.3 L246.2,479.7 L248.3,480.0 L251.9,478.4 L253.8,479.7 L256.6,476.1 L259.2,477.7 L261.6,476.1 L264.7,472.5 L267.0,472.5 L269.4,474.5 L271.2,474.5 L274.1,479.2 L276.4,478.4 L279.1,479.7 L282.7,478.1 L286.6,480.0 L289.7,483.1 L293.1,487.0 L296.7,480.8 L299.8,478.4 L302.2,477.7 L304.5,473.0 L307.7,472.5 L311.6,474.1 L314.7,473.4 L317.8,474.1 L320.0,478.1 L322.3,479.7 L326.2,476.1 L328.6,476.6 L333.3,479.5 L336.4,479.5 L339.5,479.5 L342.7,484.7 L345.3,480.5 L348.1,482.8 L350.5,485.2 L353.6,486.2 L357.5,490.2 L360.6,492.2 L363.0,488.6 L365.3,481.9 L367.7,483.1 L370.3,485.5 L375.5,483.1 L378.6,479.7 L380.9,478.4 L384.1,480.0 L386.4,481.1 L388.8,480.0 L392.7,481.2 L395.8,482.3 L398.1,482.3 L401.2,476.9 L403.6,474.5 L405.9,478.1 L408.3,479.2 L413.0,483.1 L416.1,483.4 L419.2,484.2 L423.9,484.2 L426.2,485.0 L428.6,482.3 L431.7,483.9 L434.8,485.0 L437.2,486.2 L439.5,484.7 L442.2,481.2 L445.0,482.8 L448.9,487.0 L452.8,489.7 L456.7,491.7 L459.8,488.6 L462.2,489.7 L464.5,487.8 L466.9,483.9 L470.0,485.5 L473.9,484.4 L477.0,485.5 L480.0,486.7 L482.3,489.1 L486.2,487.0 L489.4,481.2 L492.2,483.4 L494.8,479.5 L497.2,479.2 L500.3,474.5 L502.7,474.1 L505.0,475.6 L508.1,474.5 L510.5,474.5 L512.5,473.4 L515.2,475.3 L517.5,478.8 L520.6,475.0 L523.0,475.6 L525.6,477.3 L528.1,476.1 L530.3,476.1 L533.9,481.2 L537.5,485.5 L540.9,485.5 L543.3,483.9 L545.6,479.7 L548.3,481.9 L551.1,480.8 L555.3,478.4 L558.1,480.5 L560.5,479.2 L563.1,478.0 L565.9,480.5 L568.8,483.4 L571.4,481.6 L575.3,483.1 L579.2,487.8 L582.3,488.6 L586.2,487.5 L588.6,490.6 L591.2,490.6 L594.1,489.4 L596.4,490.2 L600.3,485.5 L603.4,481.6 L605.8,482.3 L608.9,480.0 L614.1,480.0 L616.7,483.6 L619.4,480.3 L622.2,480.0 L626.6,477.7 L630.0,481.6 L631.9,481.2 L634.4,478.1 L636.2,480.0 L640.0,479.5 L641.9,479.2 L644.4,475.3 L646.6,474.5 L649.4,477.2 L652.8,481.2 L656.9,479.5 L659.5,482.8 L665.0,486.7 L667.3,485.5 L675.2,485.5 L679.1,483.1 L681.9,481.2 L685.3,485.0 L688.4,484.4 L692.3,485.5 L694.7,480.8 L697.0,481.2 L700.2,478.4 L702.5,475.3 L705.6,481.2 L708.8,480.0 L712.7,479.2 L715.0,478.4 L717.3,480.8 L720.0,484.2 L723.6,485.9 L726.7,489.4 L730.3,490.6 L733.0,485.5 L735.3,481.6 L738.4,481.2 L740.8,480.0 L743.4,475.3 L745.9,476.6" fill="none" stroke="#2152bd" stroke-width="1" stroke-linejoin="round"/>
</svg>
</body></html>
